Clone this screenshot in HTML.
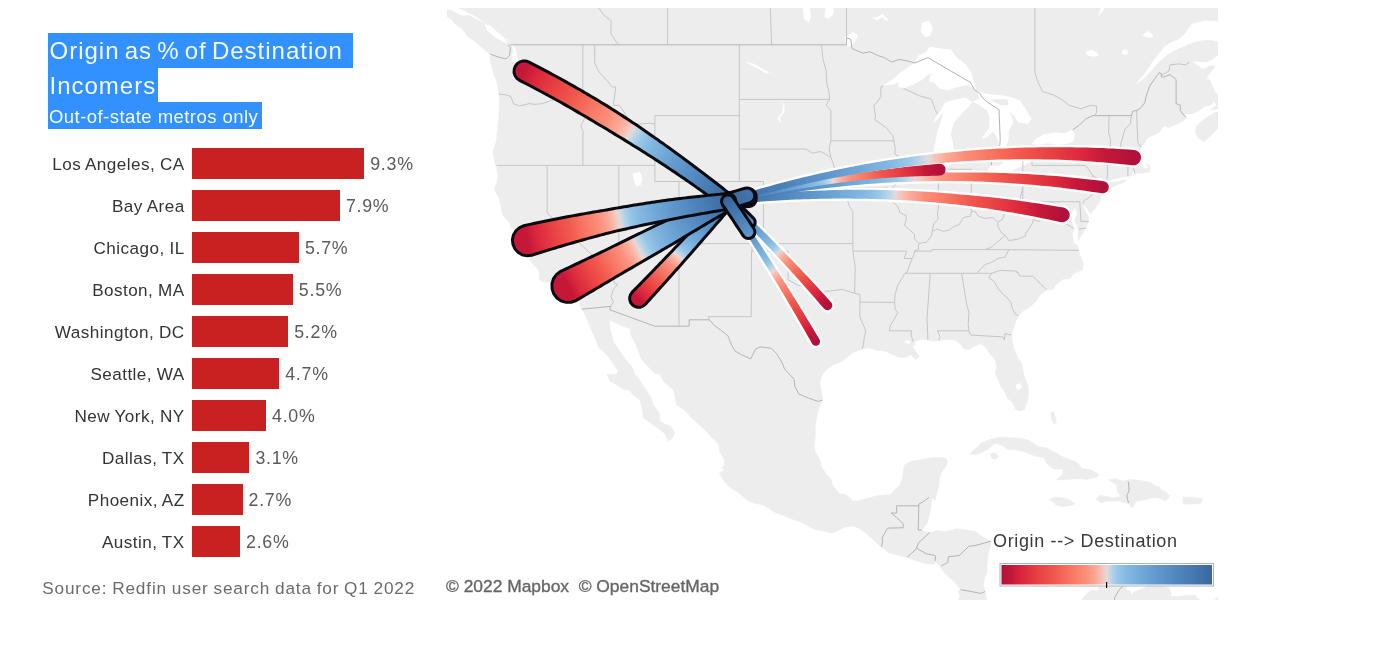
<!DOCTYPE html>
<html><head><meta charset="utf-8"><title>Origin as % of Destination Incomers</title>
<style>
html,body{margin:0;padding:0;background:#fff}
body{width:1385px;height:656px;position:relative;overflow:hidden;font-family:"Liberation Sans",sans-serif}

.ttl{position:absolute;left:48px;background:#3390ff;color:#f4fbff;white-space:nowrap;overflow:visible}
.t1{position:absolute;left:1.5px;top:4.2px;font-size:24px;line-height:28px;letter-spacing:1.0px;word-spacing:-2.5px}
.t2{position:absolute;left:1px;top:4px;font-size:18.5px;line-height:22px;letter-spacing:0.45px}
.lab{position:absolute;left:0;width:184.6px;text-align:right;height:31px;line-height:33.2px;font-size:17.1px;color:#333;white-space:nowrap;letter-spacing:0.45px;word-spacing:-0.4px}
.bar{position:absolute;left:192px;height:31px;background:#c92022}
.val{position:absolute;height:31px;line-height:32px;font-size:17.8px;color:#5a5a5a;white-space:nowrap;letter-spacing:0.75px}
.src{position:absolute;left:42.2px;top:577.2px;font-size:17.2px;line-height:22px;color:#6b6b6b;white-space:nowrap;letter-spacing:0.85px;word-spacing:-0.8px}

#map{position:absolute;left:0;top:0}
.attr{position:absolute;left:446px;top:574.7px;font-size:17.4px;line-height:22px;color:#666;white-space:pre;-webkit-text-stroke:0.35px #666;letter-spacing:0px}
.lgt{position:absolute;left:993px;top:529.6px;font-size:18px;line-height:22px;color:#3a3a3a;white-space:nowrap;letter-spacing:0.64px}
</style></head><body>
<svg id="map" width="1385" height="656" viewBox="0 0 1385 656">
<defs></defs>
<clipPath id="mc"><rect x="447" y="8" width="771" height="592"/></clipPath>
<g clip-path="url(#mc)">
<rect x="447" y="8" width="771" height="592" fill="#fff"/>
<g fill="#ededee" stroke="#ededee" stroke-width="0.6" stroke-linejoin="round">
<path d="M443.5,-12.0 L453.1,3.5 L459.1,8.3 L467.6,12.1 L478.4,17.8 L485.6,23.5 L490.5,28.2 L498.9,33.7 L504.9,37.5 L508.5,39.3 L509.7,43.9 L513.4,44.8 L515.8,48.5 L517.0,54.0 L518.2,59.4 L520.0,64.8 L518.2,70.2 L518.2,75.5 L513.4,79.1 L510.3,75.5 L515.2,70.2 L515.8,64.8 L513.4,61.2 L508.5,60.3 L498.9,59.4 L490.5,55.8 L490.5,63.0 L494.1,72.0 L496.5,80.9 L498.3,87.9 L498.9,94.0 L499.5,101.8 L498.9,115.6 L497.7,127.4 L496.5,140.8 L492.9,151.5 L494.7,162.2 L496.5,167.0 L497.7,175.1 L497.1,183.1 L494.1,190.2 L498.9,197.3 L501.3,206.7 L502.5,214.5 L509.7,223.0 L511.0,228.4 L517.0,230.7 L517.0,236.0 L518.2,241.3 L523.0,244.3 L525.4,246.6 L523.6,250.3 L529.0,258.5 L532.6,263.7 L536.3,267.4 L539.3,271.1 L539.3,279.2 L541.4,281.4 L549.5,282.1 L555.5,283.9 L561.6,287.5 L565.2,287.7 L566.4,291.6 L570.0,291.9 L576.0,296.7 L579.6,302.4 L580.2,306.7 L581.8,309.2 L584.5,313.9 L587.5,320.3 L591.7,330.8 L595.9,339.2 L598.3,346.9 L606.1,353.8 L612.8,362.8 L618.2,371.7 L615.8,374.4 L606.8,374.4 L609.8,380.5 L615.8,384.6 L623.6,389.3 L629.0,390.0 L633.9,395.4 L639.9,400.1 L642.3,408.8 L643.5,418.1 L649.5,422.1 L656.8,427.3 L664.6,433.3 L668.2,440.7 L672.4,438.5 L674.6,432.6 L670.6,426.0 L664.0,424.0 L659.8,420.7 L659.2,412.8 L653.1,404.8 L651.3,398.1 L647.1,391.4 L642.3,384.6 L639.3,379.2 L634.5,373.7 L631.5,366.2 L625.4,359.4 L619.4,350.4 L613.4,342.0 L611.0,332.2 L609.2,325.2 L609.8,319.5 L613.4,321.7 L624.2,326.6 L630.2,328.7 L630.8,335.0 L634.5,342.0 L638.1,350.4 L641.1,358.7 L647.1,365.5 L654.3,373.1 L660.4,374.4 L664.0,381.9 L668.8,386.0 L674.2,390.7 L674.8,396.7 L676.6,404.8 L684.5,410.1 L691.7,418.1 L697.7,423.4 L705.0,430.0 L711.0,436.5 L718.2,443.7 L720.0,452.2 L724.2,458.7 L724.8,465.2 L721.8,467.7 L724.8,470.3 L719.4,472.9 L723.0,479.3 L729.1,487.0 L736.3,490.8 L742.3,495.9 L747.1,500.3 L755.6,503.5 L762.8,504.8 L768.8,508.6 L776.1,513.0 L783.3,515.5 L789.3,518.0 L800.2,521.8 L806.2,525.0 L814.6,529.3 L824.3,531.2 L831.5,533.1 L838.7,530.0 L845.9,526.8 L853.2,526.2 L859.2,528.1 L866.4,533.7 L872.5,538.7 L880.9,546.8 L889.3,553.0 L897.8,554.9 L907.4,557.4 L917.0,561.1 L925.5,563.6 L933.9,564.2 L936.3,561.1 L939.9,566.7 L944.8,572.9 L950.8,578.4 L956.8,584.6 L960.4,589.5 L958.0,591.9 L960.4,595.6 L958.6,600.5 L958.0,615.2 L993.0,615.2 L986.9,600.5 L985.1,591.9 L983.3,584.6 L984.5,578.4 L986.9,572.2 L986.9,566.1 L988.1,553.7 L990.5,546.2 L991.1,541.2 L983.3,537.5 L974.9,531.2 L966.4,530.0 L956.8,528.7 L946.0,531.8 L937.5,530.6 L930.3,532.5 L925.5,531.8 L921.9,530.0 L926.7,523.7 L929.1,517.4 L930.3,509.8 L931.5,502.2 L931.5,497.8 L935.1,500.3 L938.7,485.7 L939.3,478.0 L941.1,472.9 L946.6,465.2 L947.2,460.0 L943.5,457.4 L932.7,457.4 L923.1,459.3 L912.2,461.3 L905.0,464.5 L903.2,470.3 L902.6,478.0 L900.2,484.4 L895.3,489.5 L890.5,494.6 L884.5,495.3 L876.1,495.9 L866.4,498.4 L858.0,501.0 L853.2,501.0 L845.9,494.6 L838.7,493.4 L836.3,489.5 L832.7,485.7 L830.9,479.3 L825.5,472.9 L821.8,467.7 L819.4,458.7 L815.2,452.2 L814.0,445.7 L815.2,436.5 L815.2,426.0 L817.0,415.4 L819.4,407.5 L822.4,400.1 L821.8,392.7 L819.4,383.3 L821.8,375.1 L826.7,369.6 L833.9,364.2 L841.1,362.1 L847.1,357.3 L852.0,353.1 L858.0,350.4 L862.2,349.0 L868.8,347.9 L877.3,350.4 L883.3,350.4 L886.9,351.8 L892.9,354.5 L899.0,357.3 L906.2,357.3 L911.0,354.5 L915.8,359.4 L919.4,356.6 L915.8,351.8 L912.2,346.2 L915.8,344.1 L913.4,342.0 L920.7,339.2 L927.9,339.9 L932.7,341.3 L938.7,340.6 L947.2,339.2 L954.4,339.9 L960.4,343.4 L964.0,349.0 L968.9,349.7 L976.1,345.5 L980.9,343.4 L985.7,347.6 L990.5,354.5 L995.4,360.0 L996.6,366.9 L995.4,373.7 L997.8,379.2 L1001.4,387.3 L1005.0,392.7 L1007.4,398.1 L1012.2,402.1 L1015.2,408.8 L1018.3,410.8 L1024.3,410.1 L1025.5,406.1 L1027.3,402.1 L1028.5,392.7 L1027.9,386.0 L1024.3,376.5 L1022.5,368.3 L1021.9,364.2 L1018.3,358.7 L1014.0,349.0 L1012.2,340.6 L1011.6,335.0 L1013.4,328.0 L1015.8,321.0 L1018.3,316.0 L1023.1,311.0 L1030.3,306.7 L1036.3,301.0 L1039.9,295.2 L1046.0,290.1 L1053.2,289.4 L1055.6,285.1 L1062.8,279.2 L1070.1,278.5 L1073.7,273.3 L1082.7,269.7 L1083.3,263.0 L1079.7,254.1 L1077.3,245.1 L1073.7,243.6 L1072.5,236.0 L1073.7,228.4 L1071.3,220.7 L1071.3,213.0 L1074.9,206.7 L1077.3,213.0 L1074.9,220.7 L1078.5,228.4 L1077.9,240.5 L1082.1,234.5 L1086.9,225.3 L1088.8,220.7 L1088.1,216.1 L1084.5,209.9 L1082.7,203.6 L1088.1,209.9 L1090.6,213.7 L1095.4,208.3 L1100.2,200.5 L1101.4,192.6 L1100.2,187.9 L1101.4,186.3 L1105.0,182.3 L1113.5,179.1 L1120.7,177.2 L1126.7,176.4 L1131.5,175.6 L1132.7,170.3 L1135.1,173.5 L1138.8,172.7 L1141.8,173.2 L1149.6,171.9 L1150.2,167.0 L1148.4,164.6 L1146.6,164.6 L1149.0,167.8 L1143.6,169.0 L1142.4,165.4 L1140.0,160.5 L1137.6,159.7 L1140.0,156.5 L1142.4,154.8 L1140.0,151.5 L1141.2,147.4 L1144.8,142.5 L1147.2,138.3 L1152.0,135.8 L1159.2,132.5 L1164.1,125.7 L1168.9,127.4 L1174.9,124.9 L1182.1,121.5 L1186.4,118.1 L1184.5,113.9 L1191.8,113.9 L1197.8,111.3 L1203.8,107.0 L1211.1,104.4 L1214.7,101.0 L1216.5,105.3 L1210.5,109.9 L1218.3,108.7 L1227.9,108.7 L1227.9,96.6 L1215.9,94.0 L1212.3,86.1 L1209.9,80.0 L1206.2,79.1 L1210.5,72.0 L1214.7,66.6 L1211.1,65.7 L1202.6,69.3 L1194.2,63.0 L1189.4,62.1 L1197.8,61.2 L1206.2,62.1 L1212.3,59.4 L1218.3,54.9 L1227.9,52.2 L1227.9,43.0 L1218.3,42.1 L1209.9,40.2 L1197.8,41.2 L1185.8,45.8 L1173.7,51.2 L1167.7,54.9 L1159.2,62.1 L1152.0,70.2 L1147.2,75.5 L1142.4,80.0 L1137.6,83.5 L1134.5,85.3 L1138.8,80.0 L1144.8,72.9 L1150.8,63.9 L1153.2,60.3 L1158.0,54.0 L1165.3,45.8 L1171.3,42.1 L1179.7,38.4 L1185.8,31.9 L1191.8,23.5 L1203.8,20.6 L1218.3,20.6 L1227.9,20.6 L1227.9,-12.0Z"/>
<path d="M443.5,9.2 L450.7,10.2 L460.3,15.0 L468.8,17.8 L478.4,20.6 L484.4,26.3 L488.1,31.9 L496.5,38.4 L501.3,42.1 L504.9,50.3 L507.3,54.9 L503.7,57.2 L494.1,54.0 L485.6,49.4 L479.6,45.8 L474.8,41.2 L467.6,36.5 L462.8,29.1 L455.5,24.4 L450.7,18.8 L443.5,15.0Z"/>
<path d="M1227.9,124.0 L1218.3,127.4 L1209.9,136.6 L1203.8,141.6 L1197.8,137.5 L1195.4,132.5 L1196.6,125.7 L1200.2,122.4 L1209.9,115.6 L1215.9,112.1 L1227.9,111.3Z"/>
<path d="M1101.4,187.9 L1107.4,187.9 L1115.9,185.5 L1121.9,183.1 L1126.7,180.7 L1123.1,179.9 L1118.3,181.8 L1112.2,182.3 L1105.0,183.9Z"/>
<path d="M969.5,453.9 L976.1,448.3 L980.9,443.1 L989.3,439.8 L1000.2,437.2 L1011.0,437.9 L1021.9,438.5 L1029.1,440.5 L1037.5,446.3 L1047.2,448.3 L1058.0,454.2 L1064.0,457.4 L1077.3,462.6 L1082.1,468.4 L1090.6,469.7 L1099.0,474.8 L1095.4,477.4 L1086.9,479.3 L1079.7,478.7 L1067.7,479.3 L1056.8,479.9 L1062.8,474.2 L1062.8,469.0 L1053.2,469.0 L1047.2,463.9 L1043.6,457.4 L1035.1,456.1 L1023.7,451.6 L1014.6,449.6 L1007.4,449.6 L1003.8,446.3 L995.4,443.1 L988.1,449.0 L982.1,452.2 L976.1,454.8Z"/>
<path d="M990.5,453.5 L995.4,452.9 L998.4,456.1 L995.4,459.3 L991.7,458.0Z"/>
<path d="M1049.0,499.7 L1054.4,497.2 L1062.8,497.8 L1070.1,500.3 L1074.9,503.5 L1071.3,505.2 L1062.8,506.7 L1055.6,504.8 L1052.0,501.0Z"/>
<path d="M1108.6,479.9 L1115.9,478.7 L1123.1,481.2 L1129.7,479.3 L1141.2,480.6 L1150.8,482.5 L1155.6,486.3 L1159.2,487.0 L1161.7,490.8 L1165.3,491.4 L1169.5,495.9 L1165.9,501.0 L1158.0,497.8 L1150.8,497.8 L1143.6,500.3 L1136.3,501.0 L1132.7,507.9 L1128.5,503.5 L1119.5,501.0 L1107.4,501.0 L1101.4,502.9 L1096.0,499.1 L1100.2,495.3 L1113.5,497.8 L1121.3,496.5 L1117.1,490.8 L1117.1,485.1 L1112.2,481.9Z"/>
<path d="M1183.3,497.2 L1191.8,497.2 L1202.6,499.1 L1200.2,503.5 L1191.8,504.1 L1183.3,504.1Z"/>
<path d="M1050.8,412.8 L1053.8,411.5 L1055.6,418.1 L1056.2,423.4 L1053.8,423.4 L1051.4,419.4Z"/>
<path d="M1059.2,615.2 L1066.5,615.2 L1073.7,612.7 L1079.7,607.8 L1082.1,600.5 L1083.3,598.1 L1086.3,594.4 L1091.2,590.1 L1097.8,590.7 L1099.0,587.0 L1109.8,587.0 L1117.1,582.1 L1123.1,575.9 L1129.1,572.9 L1133.9,574.1 L1136.3,577.2 L1133.3,580.9 L1126.7,583.3 L1126.1,589.5 L1130.3,591.3 L1131.5,595.6 L1133.9,591.9 L1137.6,590.7 L1146.0,587.0 L1147.2,583.3 L1146.0,578.4 L1149.6,575.9 L1152.0,578.4 L1152.0,582.1 L1152.6,584.6 L1161.7,585.2 L1168.9,588.2 L1171.3,593.2 L1170.1,596.2 L1176.1,596.8 L1185.8,595.6 L1195.4,595.0 L1197.8,599.3 L1203.8,601.1 L1209.9,601.7 L1214.7,599.9 L1218.3,596.8 L1227.9,594.4 L1227.9,615.2Z"/>
<path d="M462.0,14.0 L470.0,16.0 L486.0,24.0 L505.0,38.0 L512.0,46.0 L514.0,60.0 L516.0,76.0 L505.0,80.0 L494.0,76.0 L491.8,64.0 L490.3,55.0 L478.0,44.0 L468.0,34.0 L458.0,22.0Z"/>
</g>
<g fill="#fff" stroke="none">
<path d="M484.2,24.0 L490.3,25.6 L497.9,32.5 L505.5,39.0 L507.5,43.8 L503.0,41.8 L495.0,37.2 L487.3,30.8Z"/>
<path d="M456.8,10.7 L465.9,12.0 L469.0,14.8 L463.0,15.8 L458.3,13.7Z"/>
<path d="M512.3,52.0 L514.5,56.0 L515.0,63.0 L512.8,62.0 L511.5,56.0Z"/>
<path d="M883.3,85.3 L890.5,80.9 L899.0,73.8 L908.6,66.6 L914.6,63.0 L918.2,55.8 L925.5,52.2 L930.3,46.7 L941.1,48.5 L950.8,49.4 L956.8,57.6 L965.2,63.9 L971.3,72.0 L973.7,80.9 L976.1,89.7 L968.9,85.3 L962.8,86.1 L954.4,87.9 L948.4,90.5 L939.9,88.8 L933.9,82.6 L929.1,81.7 L930.3,75.5 L935.1,72.9 L927.9,74.7 L921.9,80.0 L913.4,84.4 L905.0,87.9 L897.8,87.0 L899.0,82.6 L892.9,84.4Z"/>
<path d="M971.9,101.8 L965.2,97.5 L956.8,99.2 L949.6,101.0 L944.8,102.7 L940.5,110.4 L936.3,116.4 L932.7,123.2 L937.5,119.8 L943.5,111.3 L941.1,120.7 L938.1,129.1 L936.3,137.5 L933.9,149.1 L935.1,158.9 L937.5,167.8 L941.1,171.6 L946.0,169.5 L950.8,163.8 L953.8,154.0 L953.2,144.1 L950.8,134.1 L953.8,122.4 L960.4,115.6 L964.0,111.3 L968.9,107.0Z"/>
<path d="M971.9,101.8 L978.5,104.4 L986.9,110.4 L989.3,117.3 L989.3,127.4 L985.7,132.5 L981.5,138.3 L986.9,137.5 L993.0,131.6 L997.8,139.1 L999.6,149.1 L1006.2,145.8 L1008.6,139.1 L1008.6,130.8 L1013.4,122.4 L1011.0,115.6 L1009.2,111.3 L1014.6,116.4 L1018.3,122.4 L1027.9,124.0 L1031.5,119.0 L1026.7,110.4 L1019.5,100.1 L1008.6,96.6 L999.0,94.9 L986.9,94.0 L979.7,91.4 L976.1,89.7 L979.7,98.4Z"/>
<path d="M987.5,170.3 L990.5,165.4 L999.0,165.4 L1007.4,159.7 L1014.6,154.8 L1024.3,155.6 L1035.1,151.5 L1042.4,151.5 L1038.7,156.5 L1031.5,161.3 L1023.1,165.4 L1014.6,169.5 L1007.4,173.5 L999.0,175.1 L993.0,173.5Z"/>
<path d="M994.2,159.7 L997.8,154.8 L1000.2,158.1 L999.0,160.5Z"/>
<path d="M1031.5,144.1 L1036.3,138.3 L1044.8,134.1 L1055.6,132.5 L1065.3,133.3 L1072.5,129.1 L1074.9,134.1 L1073.7,140.8 L1066.5,144.1 L1058.0,144.9 L1047.2,143.3 L1039.9,144.9Z"/>
<path d="M821.8,-12.0 L831.5,-12.0 L832.7,3.5 L833.9,13.1 L829.1,18.8 L824.3,16.9 L825.5,7.3 L820.6,-0.4Z"/>
<path d="M796.5,-12.0 L807.4,-12.0 L811.0,16.9 L808.6,22.5 L803.8,18.8 L802.6,7.3Z"/>
<path d="M921.9,22.5 L929.1,20.6 L932.7,28.2 L930.3,35.6 L925.5,37.5 L920.7,31.9Z"/>
<path d="M844.7,37.5 L853.2,31.9 L858.0,35.6 L854.4,43.0 L849.6,46.7 L845.9,44.8Z"/>
<path d="M632.7,173.5 L639.9,171.9 L642.3,178.3 L641.1,184.7 L636.3,186.3 L633.9,181.5Z"/>
<path d="M1121.9,50.3 L1126.7,49.4 L1128.5,53.1 L1125.5,54.9 L1121.9,54.0Z"/>
<path d="M1015.8,384.6 L1020.7,383.3 L1021.9,387.3 L1018.9,390.0 L1015.8,388.0Z"/>
<path d="M1085.7,52.2 L1090.6,49.4 L1096.6,52.2 L1099.0,55.8 L1093.0,56.7 L1088.1,55.8Z"/>
<path d="M1142.4,35.6 L1147.2,31.0 L1152.0,33.7 L1153.2,37.5 L1147.2,37.5Z"/>
<path d="M1097.8,16.9 L1102.6,11.2 L1109.8,1.6 L1106.2,1.6 L1100.2,9.2Z"/>
<path d="M744.7,61.2 L754.4,63.9 L760.4,67.5 L766.4,71.1 L770.0,72.0 L766.4,73.8 L759.2,69.3 L752.0,65.7Z"/>
<path d="M779.7,100.1 L783.3,105.3 L782.1,112.1 L777.3,119.0 L782.1,124.0 L779.7,118.1 L784.5,112.1 L784.5,105.3Z"/>
<path d="M903.8,342.0 L908.6,339.9 L911.0,342.0 L908.6,344.1Z"/>
<path d="M872.5,17.8 L877.3,20.6 L882.1,16.9 L886.9,21.6 L888.1,18.8 L882.1,14.0 L877.3,16.9Z"/>
</g>
<g fill="#ededee" stroke="none">
<path d="M991.7,99.2 L999.0,99.2 L1007.4,99.2 L1008.6,105.3 L1001.4,105.3 L993.0,101.8Z"/>
</g>
<g fill="none" stroke="#c6c6c8" stroke-width="1" stroke-linejoin="round">
<path d="M618.6,44.8 L614.6,39.3 L611.0,33.7 L611.0,20.6 L603.7,15.0 L595.3,3.5 L589.3,-4.2"/>
<path d="M667.6,44.8 L667.6,-12.0"/>
<path d="M771.7,44.8 L770.6,16.9 L769.4,-12.0"/>
<path d="M846.5,37.8 L846.5,-12.0"/>
<path d="M1034.9,-12.0 L1034.9,72.0 L1037.5,80.9 L1042.4,91.4 L1053.2,94.9 L1062.8,100.1 L1068.9,105.3 L1074.9,107.0 L1080.9,108.7 L1090.6,105.3 L1096.6,106.1 L1096.6,112.1 L1095.4,114.7"/>
<path d="M1161.0,75.5 L1168.9,71.1 L1170.1,64.8 L1178.5,63.9 L1185.8,64.8 L1189.4,62.1"/>
<path d="M1218.3,99.2 L1221.3,98.4"/>
<path d="M498.9,94.0 L506.1,94.9 L511.0,96.6 L513.4,103.6 L519.4,106.1 L529.0,103.6 L535.1,104.4 L542.3,103.6 L551.9,100.1 L559.2,98.4 L584.2,98.4"/>
<path d="M582.8,44.8 L582.8,91.4 L584.2,98.4 L589.3,107.0 L585.1,117.3 L580.8,125.7 L583.3,132.5 L582.9,135.8 L582.9,165.4"/>
<path d="M496.5,165.4 L654.9,165.4"/>
<path d="M547.1,165.4 L547.1,213.0 L611.8,273.3"/>
<path d="M618.8,165.4 L618.8,255.6 L611.0,257.1 L610.4,258.5 L612.2,266.0 L611.8,273.3 L612.5,276.3 L614.6,283.6 L617.6,284.3 L613.4,289.4 L611.0,296.7 L613.4,302.4 L610.7,306.4"/>
<path d="M618.8,243.6 L852.9,243.6"/>
<path d="M679.0,181.5 L679.0,326.2"/>
<path d="M594.7,44.8 L594.7,63.0 L598.9,72.0 L607.4,80.9 L612.2,87.0 L615.8,87.0 L613.4,105.3 L619.4,105.3 L625.4,113.9 L631.5,124.0 L639.9,124.0 L649.5,123.2 L654.9,124.0"/>
<path d="M654.9,115.6 L654.9,181.5"/>
<path d="M654.9,115.6 L739.3,115.6"/>
<path d="M654.9,181.5 L763.4,181.5"/>
<path d="M739.3,44.8 L739.3,181.5"/>
<path d="M739.3,99.4 L829.6,99.4"/>
<path d="M739.3,149.1 L806.2,149.1 L812.2,153.2 L820.6,151.5 L827.9,155.6 L830.9,157.3"/>
<path d="M763.4,181.5 L763.4,243.6"/>
<path d="M763.4,197.3 L844.7,197.3"/>
<path d="M752.0,243.6 L752.0,251.1 L788.1,251.1 L788.1,279.8 L797.7,285.1 L806.2,286.5 L813.4,289.4 L821.8,291.6 L830.3,290.9 L842.3,289.4 L854.6,293.2 L859.9,294.5 L859.9,316.8 L862.8,323.8 L865.8,330.8 L864.0,339.2 L863.4,344.8 L862.2,349.0"/>
<path d="M751.5,251.1 L751.2,316.7 L708.3,316.7 L709.4,319.8"/>
<path d="M859.9,302.1 L894.5,302.4"/>
<path d="M852.9,243.6 L852.9,251.1 L855.2,267.4 L854.6,293.2"/>
<path d="M852.9,243.6 L852.9,211.4 L849.6,206.7 L847.1,198.9 L844.7,197.3 L838.7,187.9 L838.1,178.3 L835.1,170.3 L832.7,162.2 L830.9,157.3 L829.1,149.1 L830.9,140.8 L830.9,110.4 L826.1,105.3 L829.6,99.4 L829.1,93.1 L826.7,82.6 L826.1,70.2 L823.0,59.4 L821.5,44.8"/>
<path d="M830.9,140.8 L893.9,140.8"/>
<path d="M839.1,187.9 L887.8,187.9 L891.5,191.4"/>
<path d="M883.3,86.1 L880.9,87.0 L880.9,96.6 L876.1,103.6 L873.7,105.3 L875.5,115.6 L874.9,119.8 L880.9,124.0 L885.7,127.4 L892.9,135.8 L893.9,140.8 L895.3,149.1 L894.7,154.0 L900.8,157.3 L903.8,160.5 L906.8,165.4 L906.2,168.6 L902.6,173.5 L896.0,176.7 L895.3,184.7 L891.7,188.7 L891.5,191.4 L890.5,197.3 L891.7,200.5 L897.8,206.7 L900.2,213.0 L906.2,215.3 L906.2,219.1 L904.4,225.3 L909.8,229.9 L914.6,234.5 L914.6,239.0 L918.8,243.6 L918.2,249.6 L914.6,251.1 L914.0,254.8 L912.2,258.5 L909.2,266.0 L907.4,271.9 L905.0,273.3 L901.4,279.2 L897.8,285.1 L895.3,293.8 L894.5,302.4 L895.3,309.6 L897.8,312.4 L894.1,319.5 L890.5,325.2 L889.3,330.8 L911.9,330.8 L911.0,335.0 L913.4,342.0"/>
<path d="M852.9,251.1 L906.8,251.1 L904.1,258.5 L912.2,258.5"/>
<path d="M900.8,157.3 L935.1,157.3"/>
<path d="M938.4,169.3 L938.4,208.3 L937.5,213.0 L938.1,219.1 L933.9,223.8 L932.7,228.4 L932.1,231.4"/>
<path d="M918.8,243.6 L926.7,242.0 L931.5,236.0 L932.1,231.4 L937.5,229.1 L943.5,231.4 L949.6,229.9 L953.2,226.8 L959.2,224.5 L963.4,217.6 L970.7,216.1 L971.3,211.4 L974.9,211.4 L978.5,216.1 L984.5,218.4 L993.0,217.6 L997.8,222.2 L1002.6,219.1 L1005.0,213.0 L1008.6,209.9 L1014.6,206.7 L1018.9,202.1 L1021.3,194.2 L1022.8,187.2"/>
<path d="M971.3,170.3 L971.3,211.4"/>
<path d="M942.3,169.3 L971.3,169.3 L971.3,170.3 L987.5,170.3"/>
<path d="M1022.8,160.5 L1022.8,201.7 L1079.8,201.7 L1080.9,221.3 L1088.8,221.5"/>
<path d="M1032.0,161.0 L1032.0,165.4 L1085.1,165.4 L1088.1,168.6 L1093.0,175.9 L1088.1,181.5 L1086.9,186.3 L1088.8,191.0 L1092.4,194.2 L1088.1,198.1 L1084.5,200.5 L1082.7,203.6"/>
<path d="M1093.0,175.9 L1102.6,181.5"/>
<path d="M1105.6,181.5 L1107.4,176.7 L1107.4,164.6 L1110.3,153.2 L1110.4,139.1 L1108.6,132.5 L1109.2,115.6"/>
<path d="M1120.0,153.5 L1120.7,144.1 L1123.1,135.8 L1124.9,129.1 L1130.3,124.0 L1131.5,115.6"/>
<path d="M1141.2,147.4 L1137.9,142.5 L1137.2,127.4 L1136.6,110.4"/>
<path d="M1110.3,153.5 L1133.9,154.0 L1140.0,151.2"/>
<path d="M1107.4,164.8 L1127.9,165.1 L1133.0,165.2 L1133.0,167.0 L1135.1,173.5"/>
<path d="M1127.9,165.1 L1127.9,176.4"/>
<path d="M1078.5,229.1 L1086.5,227.9"/>
<path d="M1035.4,201.7 L1035.4,209.9 L1039.9,205.7 L1044.2,203.6 L1047.8,204.9 L1050.8,202.4 L1055.0,203.6 L1056.6,208.0 L1059.2,209.9 L1062.2,213.0 L1064.8,215.3 L1062.8,222.2 L1065.9,223.8 L1073.7,228.4"/>
<path d="M1056.6,208.0 L1055.3,210.9 L1049.0,206.7 L1049.0,213.0 L1042.7,216.5 L1038.7,221.5 L1033.3,219.1 L1032.7,223.0 L1025.5,233.7 L1025.5,236.0 L1018.3,239.0 L1014.0,239.8 L1008.6,240.5 L1005.4,235.4 L1001.4,232.9 L997.8,226.1 L997.8,222.2"/>
<path d="M1005.4,235.4 L996.6,242.8 L991.1,247.3 L984.8,249.6"/>
<path d="M1078.9,250.3 L1008.9,249.7 L984.8,249.6 L931.9,249.6 L931.9,251.1 L914.6,251.1"/>
<path d="M1008.9,249.7 L1005.0,257.1 L997.8,258.5 L991.7,262.3 L984.5,264.9 L980.3,269.4 L977.0,273.3"/>
<path d="M991.6,273.3 L905.0,273.3"/>
<path d="M991.6,273.3 L1000.2,270.4 L1016.5,271.1 L1016.5,272.6 L1017.9,271.9 L1019.5,276.0 L1033.1,276.3 L1046.6,290.0"/>
<path d="M991.6,273.3 L988.7,277.7 L994.2,281.4 L997.8,288.0 L1002.6,293.8 L1006.2,296.7 L1011.0,302.4 L1012.2,308.2 L1015.2,313.9 L1018.3,316.0"/>
<path d="M961.6,273.3 L966.7,304.3 L968.9,312.4 L968.2,323.8 L968.9,330.8 L970.5,335.0 L1002.6,336.9 L1004.4,339.9 L1005.0,333.6 L1011.6,335.0"/>
<path d="M968.9,330.8 L937.5,330.8 L939.9,336.4 L938.7,340.6"/>
<path d="M930.3,273.3 L927.0,318.1 L927.9,339.9"/>
<path d="M903.5,88.4 L919.4,95.8 L931.5,99.2 L935.1,109.6 L937.5,113.9"/>
</g>
<g fill="none" stroke="#b4b4b6" stroke-width="1" stroke-linejoin="round">
<path d="M507.8,45.0 L510.4,47.6 L509.6,55.2 L506.0,59.0 L498.0,57.0 L490.3,54.1"/>
<path d="M509.7,44.8 L846.5,44.8 L846.5,37.8 L850.8,39.3 L852.0,48.5 L858.0,51.2 L862.8,53.1 L870.0,51.8 L878.5,55.8 L884.5,57.6 L891.7,62.1 L899.0,59.4 L908.6,61.2 L914.6,63.0"/>
<path d="M914.6,63.0 L927.9,57.6 L970.7,82.6 L974.3,89.7 L979.7,93.1 L982.1,97.5 L986.9,101.8 L999.0,109.6 L1000.2,139.1 L999.6,149.1"/>
<path d="M999.6,149.1 L999.0,155.6 L994.2,159.7 L991.7,161.3 L991.1,165.4"/>
<path d="M1040.5,144.9 L1041.8,150.7"/>
<path d="M1072.5,129.9 L1079.7,124.9 L1085.7,119.0 L1093.0,115.6 L1131.5,115.6 L1132.7,111.3 L1136.3,110.4 L1140.0,108.7 L1144.8,102.7 L1146.0,96.6 L1149.6,86.1 L1159.0,72.7 L1161.7,73.8 L1161.0,76.4 L1162.9,77.3 L1170.1,74.7 L1176.1,79.6 L1176.1,103.6 L1180.3,105.3 L1180.3,110.4 L1182.1,113.0 L1185.8,117.3"/>
<path d="M581.8,309.2 L610.7,306.4 L609.6,309.7 L654.7,326.2 L689.2,326.2 L689.2,319.8 L709.4,319.8 L713.4,324.5 L720.6,330.1 L727.9,335.7 L731.5,344.8 L735.1,351.1 L741.1,354.5 L750.7,358.9 L755.6,349.0 L760.4,346.9 L771.2,348.3 L776.7,353.8 L782.1,362.8 L784.5,369.0 L794.1,379.2 L794.7,386.0 L798.9,394.1 L808.6,398.1 L818.2,401.4 L822.4,400.1"/>
<path d="M881.5,546.8 L882.7,541.2 L882.1,538.1 L887.5,528.1 L903.2,527.8 L903.2,523.7 L896.6,517.4 L891.1,513.0 L896.6,513.0 L896.6,505.8 L918.8,505.8 L918.8,504.1 L924.3,501.0 L929.1,497.2"/>
<path d="M918.8,505.8 L918.2,530.0 L921.9,530.0"/>
<path d="M929.7,532.5 L918.8,542.5 L916.4,548.3 L914.0,551.2 L907.4,556.8"/>
<path d="M916.4,548.3 L926.7,553.9 L932.7,554.9 L935.7,556.1 L935.1,561.1"/>
<path d="M941.1,566.1 L947.8,562.3 L948.4,556.8 L959.2,555.5 L968.9,546.2 L974.9,545.6 L991.1,541.2"/>
<path d="M960.4,589.7 L970.1,591.3 L980.9,593.4 L985.1,591.6"/>
<path d="M1128.5,481.9 L1129.1,490.8 L1126.7,495.9 L1128.5,502.9"/>
<path d="M1133.6,580.2 L1125.5,583.3 L1119.5,589.5 L1114.7,597.4 L1113.5,609.1"/>
</g>
</g>
<defs><linearGradient id="gDC" gradientUnits="userSpaceOnUse" x1="1062.3" y1="214.9" x2="728.0" y2="201.4"><stop offset="0.0000" stop-color="#b1113a"/><stop offset="0.0675" stop-color="#c51838"/><stop offset="0.1234" stop-color="#db283c"/><stop offset="0.2057" stop-color="#e94243"/><stop offset="0.2737" stop-color="#f1574c"/><stop offset="0.3511" stop-color="#f87864"/><stop offset="0.4118" stop-color="#fb8e7a"/><stop offset="0.4562" stop-color="#fbaa98"/><stop offset="0.4826" stop-color="#f6c4b8"/><stop offset="0.5000" stop-color="#e4dada"/><stop offset="0.5200" stop-color="#bcd6e9"/><stop offset="0.5500" stop-color="#98c7e7"/><stop offset="0.6000" stop-color="#82b7e1"/><stop offset="0.6670" stop-color="#70a8d7"/><stop offset="0.7500" stop-color="#5f96cb"/><stop offset="0.8330" stop-color="#5187be"/><stop offset="0.9200" stop-color="#4477af"/><stop offset="1.0000" stop-color="#3a689e"/></linearGradient><linearGradient id="gSeattle" gradientUnits="userSpaceOnUse" x1="524.3" y1="71.2" x2="728.0" y2="201.4"><stop offset="0.0000" stop-color="#c51838"/><stop offset="0.0567" stop-color="#db283c"/><stop offset="0.1473" stop-color="#e94243"/><stop offset="0.2267" stop-color="#f1574c"/><stop offset="0.3207" stop-color="#f87864"/><stop offset="0.3967" stop-color="#fb8e7a"/><stop offset="0.4533" stop-color="#fbaa98"/><stop offset="0.4873" stop-color="#f6c4b8"/><stop offset="0.5100" stop-color="#e4dada"/><stop offset="0.5296" stop-color="#bcd6e9"/><stop offset="0.5590" stop-color="#98c7e7"/><stop offset="0.6080" stop-color="#82b7e1"/><stop offset="0.6737" stop-color="#70a8d7"/><stop offset="0.7550" stop-color="#5f96cb"/><stop offset="0.8363" stop-color="#5187be"/><stop offset="0.9216" stop-color="#4477af"/><stop offset="1.0000" stop-color="#3a689e"/></linearGradient><linearGradient id="gPhoenix" gradientUnits="userSpaceOnUse" x1="638.6" y1="298.4" x2="728.0" y2="201.4"><stop offset="0.0000" stop-color="#c51838"/><stop offset="0.0489" stop-color="#db283c"/><stop offset="0.1271" stop-color="#e94243"/><stop offset="0.1956" stop-color="#f1574c"/><stop offset="0.2767" stop-color="#f87864"/><stop offset="0.3422" stop-color="#fb8e7a"/><stop offset="0.3911" stop-color="#fbaa98"/><stop offset="0.4204" stop-color="#f6c4b8"/><stop offset="0.4400" stop-color="#e4dada"/><stop offset="0.4624" stop-color="#bcd6e9"/><stop offset="0.4960" stop-color="#98c7e7"/><stop offset="0.5520" stop-color="#82b7e1"/><stop offset="0.6270" stop-color="#70a8d7"/><stop offset="0.7200" stop-color="#5f96cb"/><stop offset="0.8130" stop-color="#5187be"/><stop offset="0.9104" stop-color="#4477af"/><stop offset="1.0000" stop-color="#3a689e"/></linearGradient><linearGradient id="gNY" gradientUnits="userSpaceOnUse" x1="1102.7" y1="187.2" x2="728.0" y2="201.4"><stop offset="0.0000" stop-color="#b1113a"/><stop offset="0.0675" stop-color="#c51838"/><stop offset="0.1234" stop-color="#db283c"/><stop offset="0.2057" stop-color="#e94243"/><stop offset="0.2737" stop-color="#f1574c"/><stop offset="0.3511" stop-color="#f87864"/><stop offset="0.4118" stop-color="#fb8e7a"/><stop offset="0.4562" stop-color="#fbaa98"/><stop offset="0.4826" stop-color="#f6c4b8"/><stop offset="0.5000" stop-color="#e4dada"/><stop offset="0.5200" stop-color="#bcd6e9"/><stop offset="0.5500" stop-color="#98c7e7"/><stop offset="0.6000" stop-color="#82b7e1"/><stop offset="0.6670" stop-color="#70a8d7"/><stop offset="0.7500" stop-color="#5f96cb"/><stop offset="0.8330" stop-color="#5187be"/><stop offset="0.9200" stop-color="#4477af"/><stop offset="1.0000" stop-color="#3a689e"/></linearGradient><linearGradient id="gLA" gradientUnits="userSpaceOnUse" x1="568.3" y1="286.0" x2="728.0" y2="201.4"><stop offset="0.0000" stop-color="#c51838"/><stop offset="0.0489" stop-color="#db283c"/><stop offset="0.1271" stop-color="#e94243"/><stop offset="0.1956" stop-color="#f1574c"/><stop offset="0.2767" stop-color="#f87864"/><stop offset="0.3422" stop-color="#fb8e7a"/><stop offset="0.3911" stop-color="#fbaa98"/><stop offset="0.4204" stop-color="#f6c4b8"/><stop offset="0.4400" stop-color="#e4dada"/><stop offset="0.4624" stop-color="#bcd6e9"/><stop offset="0.4960" stop-color="#98c7e7"/><stop offset="0.5520" stop-color="#82b7e1"/><stop offset="0.6270" stop-color="#70a8d7"/><stop offset="0.7200" stop-color="#5f96cb"/><stop offset="0.8130" stop-color="#5187be"/><stop offset="0.9104" stop-color="#4477af"/><stop offset="1.0000" stop-color="#3a689e"/></linearGradient><linearGradient id="gDallas" gradientUnits="userSpaceOnUse" x1="827.5" y1="305.4" x2="728.0" y2="201.4"><stop offset="0.0000" stop-color="#b1113a"/><stop offset="0.0675" stop-color="#c51838"/><stop offset="0.1234" stop-color="#db283c"/><stop offset="0.2057" stop-color="#e94243"/><stop offset="0.2737" stop-color="#f1574c"/><stop offset="0.3511" stop-color="#f87864"/><stop offset="0.4118" stop-color="#fb8e7a"/><stop offset="0.4562" stop-color="#fbaa98"/><stop offset="0.4826" stop-color="#f6c4b8"/><stop offset="0.5000" stop-color="#e4dada"/><stop offset="0.5200" stop-color="#bcd6e9"/><stop offset="0.5500" stop-color="#98c7e7"/><stop offset="0.6000" stop-color="#82b7e1"/><stop offset="0.6670" stop-color="#70a8d7"/><stop offset="0.7500" stop-color="#5f96cb"/><stop offset="0.8330" stop-color="#5187be"/><stop offset="0.9200" stop-color="#4477af"/><stop offset="1.0000" stop-color="#3a689e"/></linearGradient><linearGradient id="gChicago" gradientUnits="userSpaceOnUse" x1="939.7" y1="169.7" x2="728.0" y2="201.4"><stop offset="0.0000" stop-color="#b1113a"/><stop offset="0.0675" stop-color="#c51838"/><stop offset="0.1234" stop-color="#db283c"/><stop offset="0.2057" stop-color="#e94243"/><stop offset="0.2737" stop-color="#f1574c"/><stop offset="0.3511" stop-color="#f87864"/><stop offset="0.4118" stop-color="#fb8e7a"/><stop offset="0.4562" stop-color="#fbaa98"/><stop offset="0.4826" stop-color="#f6c4b8"/><stop offset="0.5000" stop-color="#e4dada"/><stop offset="0.5200" stop-color="#bcd6e9"/><stop offset="0.5500" stop-color="#98c7e7"/><stop offset="0.6000" stop-color="#82b7e1"/><stop offset="0.6670" stop-color="#70a8d7"/><stop offset="0.7500" stop-color="#5f96cb"/><stop offset="0.8330" stop-color="#5187be"/><stop offset="0.9200" stop-color="#4477af"/><stop offset="1.0000" stop-color="#3a689e"/></linearGradient><linearGradient id="gBoston" gradientUnits="userSpaceOnUse" x1="1133.3" y1="157.6" x2="728.0" y2="201.4"><stop offset="0.0000" stop-color="#b1113a"/><stop offset="0.0675" stop-color="#c51838"/><stop offset="0.1234" stop-color="#db283c"/><stop offset="0.2057" stop-color="#e94243"/><stop offset="0.2737" stop-color="#f1574c"/><stop offset="0.3511" stop-color="#f87864"/><stop offset="0.4118" stop-color="#fb8e7a"/><stop offset="0.4562" stop-color="#fbaa98"/><stop offset="0.4826" stop-color="#f6c4b8"/><stop offset="0.5000" stop-color="#e4dada"/><stop offset="0.5200" stop-color="#bcd6e9"/><stop offset="0.5500" stop-color="#98c7e7"/><stop offset="0.6000" stop-color="#82b7e1"/><stop offset="0.6670" stop-color="#70a8d7"/><stop offset="0.7500" stop-color="#5f96cb"/><stop offset="0.8330" stop-color="#5187be"/><stop offset="0.9200" stop-color="#4477af"/><stop offset="1.0000" stop-color="#3a689e"/></linearGradient><linearGradient id="gBayArea" gradientUnits="userSpaceOnUse" x1="527.7" y1="240.5" x2="728.0" y2="201.4"><stop offset="0.0000" stop-color="#c51838"/><stop offset="0.0511" stop-color="#db283c"/><stop offset="0.1329" stop-color="#e94243"/><stop offset="0.2044" stop-color="#f1574c"/><stop offset="0.2893" stop-color="#f87864"/><stop offset="0.3578" stop-color="#fb8e7a"/><stop offset="0.4089" stop-color="#fbaa98"/><stop offset="0.4396" stop-color="#f6c4b8"/><stop offset="0.4600" stop-color="#e4dada"/><stop offset="0.4816" stop-color="#bcd6e9"/><stop offset="0.5140" stop-color="#98c7e7"/><stop offset="0.5680" stop-color="#82b7e1"/><stop offset="0.6404" stop-color="#70a8d7"/><stop offset="0.7300" stop-color="#5f96cb"/><stop offset="0.8196" stop-color="#5187be"/><stop offset="0.9136" stop-color="#4477af"/><stop offset="1.0000" stop-color="#3a689e"/></linearGradient><linearGradient id="gAustin" gradientUnits="userSpaceOnUse" x1="815.8" y1="341.6" x2="728.0" y2="201.4"><stop offset="0.0000" stop-color="#b1113a"/><stop offset="0.0675" stop-color="#c51838"/><stop offset="0.1234" stop-color="#db283c"/><stop offset="0.2057" stop-color="#e94243"/><stop offset="0.2737" stop-color="#f1574c"/><stop offset="0.3511" stop-color="#f87864"/><stop offset="0.4118" stop-color="#fb8e7a"/><stop offset="0.4562" stop-color="#fbaa98"/><stop offset="0.4826" stop-color="#f6c4b8"/><stop offset="0.5000" stop-color="#e4dada"/><stop offset="0.5200" stop-color="#bcd6e9"/><stop offset="0.5500" stop-color="#98c7e7"/><stop offset="0.6000" stop-color="#82b7e1"/><stop offset="0.6670" stop-color="#70a8d7"/><stop offset="0.7500" stop-color="#5f96cb"/><stop offset="0.8330" stop-color="#5187be"/><stop offset="0.9200" stop-color="#4477af"/><stop offset="1.0000" stop-color="#3a689e"/></linearGradient></defs>
<g><path d="M1064.2,205.4 L1060.1,204.7 L1055.9,204.0 L1051.8,203.3 L1047.7,202.6 L1043.5,202.0 L1039.4,201.3 L1035.3,200.7 L1031.1,200.1 L1026.9,199.5 L1022.8,198.9 L1018.6,198.4 L1014.5,197.8 L1010.3,197.3 L1006.1,196.8 L1001.9,196.3 L997.7,195.8 L993.5,195.3 L989.4,194.8 L985.2,194.4 L981.0,194.0 L976.8,193.6 L972.5,193.2 L968.3,192.8 L964.1,192.5 L959.9,192.1 L955.7,191.7 L951.5,191.4 L947.3,191.0 L943.1,190.7 L938.8,190.4 L934.6,190.0 L930.4,189.8 L926.2,189.5 L921.9,189.2 L917.7,189.0 L913.5,188.8 L909.2,188.6 L905.0,188.4 L900.7,188.2 L896.5,188.1 L892.3,187.9 L888.0,187.8 L883.8,187.7 L879.5,187.6 L875.3,187.5 L871.0,187.5 L866.8,187.5 L862.5,187.4 L858.3,187.4 L854.0,187.4 L849.8,187.5 L845.6,187.5 L841.3,187.6 L837.1,187.7 L832.8,187.8 L828.6,187.9 L824.3,188.1 L820.1,188.2 L815.9,188.4 L811.6,188.6 L807.4,188.8 L803.1,189.0 L798.9,189.3 L794.7,189.5 L790.5,189.8 L786.2,190.1 L782.0,190.4 L777.8,190.7 L773.6,191.1 L769.3,191.4 L765.1,191.8 L760.9,192.2 L756.7,192.6 L752.5,193.0 L748.3,193.5 L746.6,193.9 L745.1,194.9 L743.9,196.3 L743.2,197.9 L743.1,199.7 L743.6,201.5 L744.5,203.0 L745.9,204.1 L747.6,204.8 L749.4,204.9 L753.6,204.6 L757.7,204.2 L761.9,203.9 L766.1,203.6 L770.3,203.3 L774.4,203.0 L778.6,202.8 L782.8,202.5 L787.0,202.3 L791.2,202.1 L795.3,201.9 L799.5,201.7 L803.7,201.6 L807.9,201.4 L812.1,201.3 L816.3,201.2 L820.5,201.1 L824.7,201.0 L828.9,201.0 L833.1,200.9 L837.2,200.9 L841.4,200.9 L845.6,200.9 L849.8,200.9 L854.0,201.0 L858.2,201.0 L862.4,201.1 L866.6,201.1 L870.8,201.2 L875.0,201.4 L879.2,201.5 L883.4,201.6 L887.5,201.8 L891.7,202.0 L895.9,202.2 L900.1,202.4 L904.3,202.6 L908.5,202.8 L912.6,203.1 L916.8,203.4 L921.0,203.7 L925.2,204.0 L929.3,204.3 L933.5,204.6 L937.7,205.0 L941.8,205.4 L946.0,205.8 L950.1,206.2 L954.3,206.6 L958.4,207.0 L962.6,207.5 L966.7,208.1 L970.8,208.6 L974.9,209.2 L979.1,209.7 L983.2,210.3 L987.3,210.9 L991.4,211.5 L995.5,212.2 L999.6,212.8 L1003.7,213.5 L1007.8,214.2 L1011.9,214.9 L1016.0,215.6 L1020.0,216.3 L1024.1,217.1 L1028.1,217.8 L1032.2,218.6 L1036.3,219.4 L1040.3,220.2 L1044.3,221.0 L1048.4,221.8 L1052.4,222.7 L1056.4,223.5 L1060.4,224.4 L1063.5,224.5 L1066.4,223.7 L1068.9,222.0 L1070.8,219.6 L1071.8,216.8 L1071.9,213.7 L1071.1,210.8 L1069.4,208.3 L1067.0,206.4Z" fill="#fff"/>
<path d="M1103.9,178.9 L1099.2,178.3 L1094.5,177.7 L1089.8,177.2 L1085.1,176.6 L1080.4,176.1 L1075.6,175.6 L1070.9,175.1 L1066.2,174.7 L1061.5,174.3 L1056.7,173.9 L1052.0,173.5 L1047.2,173.1 L1042.5,172.8 L1037.7,172.4 L1033.0,172.1 L1028.2,171.8 L1023.5,171.6 L1018.7,171.3 L1014.0,171.1 L1009.2,170.9 L1004.4,170.8 L999.7,170.6 L994.9,170.5 L990.1,170.4 L985.4,170.3 L980.6,170.2 L975.8,170.1 L971.0,170.1 L966.3,170.1 L961.5,170.1 L956.7,170.2 L952.0,170.2 L947.2,170.2 L942.4,170.3 L937.7,170.4 L932.9,170.5 L928.1,170.7 L923.4,170.8 L918.6,171.0 L913.8,171.2 L909.1,171.5 L904.3,171.7 L899.6,172.0 L894.8,172.3 L890.1,172.6 L885.3,172.9 L880.6,173.3 L875.8,173.7 L871.1,174.1 L866.4,174.5 L861.6,174.9 L856.9,175.4 L852.2,175.9 L847.5,176.4 L842.7,176.9 L838.0,177.4 L833.3,178.0 L828.6,178.6 L823.9,179.2 L819.3,179.8 L814.6,180.5 L809.9,181.1 L805.2,181.8 L800.6,182.5 L795.9,183.2 L791.3,184.0 L786.6,184.8 L782.0,185.5 L777.4,186.4 L772.7,187.2 L768.1,188.0 L763.5,188.9 L758.9,189.8 L754.3,190.7 L749.7,191.6 L745.2,192.5 L743.6,193.1 L742.4,194.1 L741.5,195.4 L741.0,197.0 L741.1,198.6 L741.7,200.1 L742.7,201.4 L744.0,202.3 L745.6,202.7 L747.2,202.7 L751.7,201.8 L756.3,201.0 L760.8,200.1 L765.4,199.3 L770.0,198.5 L774.6,197.7 L779.2,197.0 L783.7,196.3 L788.3,195.5 L793.0,194.8 L797.6,194.2 L802.2,193.5 L806.8,192.9 L811.4,192.2 L816.1,191.6 L820.7,191.1 L825.4,190.5 L830.0,190.0 L834.7,189.5 L839.3,189.0 L844.0,188.5 L848.7,188.0 L853.3,187.6 L858.0,187.2 L862.7,186.8 L867.4,186.4 L872.0,186.1 L876.7,185.7 L881.4,185.4 L886.1,185.1 L890.8,184.9 L895.5,184.6 L900.2,184.4 L904.9,184.2 L909.6,184.0 L914.3,183.8 L919.0,183.7 L923.7,183.6 L928.4,183.5 L933.2,183.4 L937.9,183.3 L942.6,183.3 L947.3,183.3 L952.0,183.3 L956.7,183.3 L961.4,183.4 L966.1,183.5 L970.8,183.6 L975.5,183.7 L980.3,183.9 L985.0,184.1 L989.7,184.3 L994.4,184.5 L999.1,184.8 L1003.8,185.0 L1008.5,185.3 L1013.1,185.7 L1017.8,186.0 L1022.5,186.3 L1027.2,186.7 L1031.9,187.1 L1036.6,187.5 L1041.2,188.0 L1045.9,188.4 L1050.6,188.9 L1055.2,189.4 L1059.9,189.9 L1064.5,190.5 L1069.2,191.0 L1073.8,191.6 L1078.4,192.2 L1083.1,192.8 L1087.7,193.5 L1092.3,194.1 L1096.9,194.8 L1101.5,195.5 L1104.2,195.5 L1106.7,194.6 L1108.7,193.0 L1110.3,190.9 L1111.0,188.4 L1111.0,185.7 L1110.1,183.2 L1108.5,181.2 L1106.4,179.6Z" fill="#fff"/>
<path d="M832.8,300.7 L831.7,299.4 L830.5,298.1 L829.3,296.9 L828.2,295.6 L827.0,294.3 L825.8,293.0 L824.6,291.7 L823.5,290.4 L822.3,289.2 L821.1,287.9 L819.9,286.6 L818.7,285.3 L817.5,284.0 L816.4,282.7 L815.2,281.4 L814.0,280.2 L812.8,278.9 L811.6,277.6 L810.4,276.3 L809.1,275.0 L807.9,273.7 L806.7,272.4 L805.5,271.1 L804.3,269.9 L803.1,268.6 L801.9,267.3 L800.6,266.0 L799.4,264.7 L798.2,263.4 L796.9,262.1 L795.7,260.8 L794.5,259.5 L793.2,258.3 L792.0,257.0 L790.7,255.7 L789.5,254.4 L788.2,253.1 L787.0,251.8 L785.7,250.5 L784.5,249.2 L783.2,247.9 L781.9,246.6 L780.7,245.3 L779.4,244.1 L778.1,242.8 L776.8,241.5 L775.6,240.2 L774.3,238.9 L773.0,237.6 L771.7,236.3 L770.4,235.0 L769.1,233.7 L767.8,232.4 L766.5,231.1 L765.2,229.9 L763.9,228.6 L762.6,227.3 L761.3,226.0 L760.0,224.7 L758.7,223.4 L757.3,222.1 L756.0,220.8 L754.7,219.5 L753.4,218.2 L751.9,217.2 L750.2,216.6 L748.5,216.7 L746.8,217.2 L745.4,218.2 L744.3,219.7 L743.8,221.4 L743.8,223.1 L744.3,224.8 L745.4,226.3 L746.7,227.6 L748.0,228.9 L749.2,230.2 L750.5,231.5 L751.8,232.8 L753.1,234.1 L754.3,235.5 L755.6,236.8 L756.9,238.1 L758.1,239.4 L759.4,240.7 L760.6,242.0 L761.9,243.3 L763.1,244.6 L764.4,246.0 L765.6,247.3 L766.9,248.6 L768.1,249.9 L769.3,251.2 L770.6,252.5 L771.8,253.8 L773.0,255.2 L774.3,256.5 L775.5,257.8 L776.7,259.1 L777.9,260.4 L779.1,261.7 L780.3,263.0 L781.5,264.3 L782.8,265.6 L784.0,267.0 L785.2,268.3 L786.3,269.6 L787.5,270.9 L788.7,272.2 L789.9,273.5 L791.1,274.8 L792.3,276.1 L793.5,277.4 L794.6,278.7 L795.8,280.1 L797.0,281.4 L798.2,282.7 L799.3,284.0 L800.5,285.3 L801.7,286.6 L802.8,287.9 L804.0,289.2 L805.1,290.5 L806.3,291.8 L807.4,293.1 L808.6,294.4 L809.7,295.7 L810.9,297.1 L812.0,298.4 L813.2,299.7 L814.3,301.0 L815.4,302.3 L816.6,303.6 L817.7,304.9 L818.8,306.2 L819.9,307.5 L821.1,308.8 L822.2,310.1 L823.9,311.5 L826.0,312.3 L828.2,312.5 L830.3,311.9 L832.2,310.7 L833.6,309.0 L834.4,306.9 L834.6,304.7 L834.0,302.6Z" fill="#fff"/>
<path d="M939.3,161.5 L936.6,161.7 L933.9,161.9 L931.1,162.1 L928.4,162.4 L925.7,162.6 L923.0,162.9 L920.3,163.1 L917.5,163.4 L914.8,163.6 L912.1,163.9 L909.4,164.2 L906.7,164.5 L904.0,164.8 L901.3,165.1 L898.6,165.4 L895.9,165.7 L893.2,166.1 L890.4,166.4 L887.7,166.7 L885.1,167.1 L882.4,167.5 L879.7,167.8 L877.0,168.2 L874.3,168.6 L871.6,168.9 L868.9,169.3 L866.2,169.7 L863.5,170.0 L860.8,170.4 L858.2,170.8 L855.5,171.1 L852.8,171.5 L850.1,171.9 L847.4,172.3 L844.8,172.7 L842.1,173.1 L839.4,173.5 L836.7,173.9 L834.1,174.3 L831.4,174.7 L828.7,175.2 L826.1,175.6 L823.4,176.1 L820.8,176.5 L818.1,177.0 L815.5,177.4 L812.8,177.9 L810.2,178.4 L807.5,178.9 L804.9,179.4 L802.2,179.9 L799.6,180.4 L797.0,180.9 L794.3,181.4 L791.7,181.9 L789.1,182.5 L786.5,183.0 L783.8,183.5 L781.2,184.1 L778.6,184.6 L776.0,185.2 L773.4,185.8 L770.8,186.3 L768.2,186.9 L765.6,187.5 L763.0,188.1 L760.4,188.7 L757.8,189.3 L755.2,189.9 L752.6,190.5 L750.0,191.1 L747.4,191.8 L746.0,192.3 L744.9,193.3 L744.1,194.6 L743.8,196.0 L743.9,197.5 L744.4,198.9 L745.4,200.0 L746.6,200.8 L748.1,201.2 L749.6,201.1 L752.2,200.5 L754.7,199.9 L757.3,199.4 L759.9,198.8 L762.5,198.3 L765.1,197.7 L767.6,197.2 L770.2,196.7 L772.8,196.2 L775.4,195.7 L778.0,195.2 L780.6,194.7 L783.2,194.2 L785.8,193.7 L788.4,193.2 L791.0,192.7 L793.7,192.2 L796.3,191.8 L798.9,191.3 L801.5,190.9 L804.1,190.4 L806.8,190.0 L809.4,189.5 L812.0,189.1 L814.6,188.7 L817.3,188.3 L819.9,187.9 L822.5,187.5 L825.2,187.1 L827.8,186.7 L830.5,186.3 L833.1,185.9 L835.7,185.6 L838.4,185.2 L841.0,184.9 L843.7,184.5 L846.3,184.2 L849.0,183.8 L851.7,183.5 L854.3,183.2 L857.0,182.9 L859.6,182.6 L862.3,182.3 L865.0,182.0 L867.6,181.7 L870.3,181.4 L873.0,181.2 L875.6,181.0 L878.3,180.8 L881.0,180.6 L883.7,180.4 L886.4,180.2 L889.0,180.0 L891.7,179.8 L894.4,179.7 L897.1,179.5 L899.8,179.4 L902.4,179.2 L905.1,179.1 L907.8,179.0 L910.5,178.8 L913.2,178.7 L915.9,178.6 L918.6,178.5 L921.3,178.4 L923.9,178.3 L926.6,178.2 L929.3,178.2 L932.0,178.1 L934.7,178.0 L937.4,178.0 L940.1,177.9 L942.6,177.4 L944.9,176.1 L946.6,174.2 L947.7,171.9 L947.9,169.3 L947.4,166.8 L946.1,164.5 L944.2,162.8 L941.9,161.7Z" fill="#fff"/>
<path d="M1134.2,147.6 L1129.0,147.2 L1123.8,146.9 L1118.6,146.6 L1113.4,146.3 L1108.1,146.1 L1102.9,145.8 L1097.7,145.6 L1092.4,145.5 L1087.2,145.3 L1082.0,145.2 L1076.7,145.1 L1071.5,145.0 L1066.3,145.0 L1061.0,145.0 L1055.8,145.0 L1050.6,145.0 L1045.3,145.0 L1040.1,145.0 L1034.8,145.1 L1029.6,145.2 L1024.4,145.3 L1019.1,145.5 L1013.9,145.7 L1008.7,145.9 L1003.5,146.1 L998.2,146.3 L993.0,146.6 L987.8,146.9 L982.6,147.3 L977.4,147.6 L972.2,148.0 L967.0,148.5 L961.8,148.9 L956.6,149.4 L951.4,149.9 L946.2,150.4 L941.0,150.9 L935.8,151.5 L930.7,152.1 L925.5,152.7 L920.4,153.3 L915.2,154.0 L910.1,154.7 L904.9,155.4 L899.8,156.2 L894.7,156.9 L889.6,157.7 L884.5,158.5 L879.4,159.4 L874.3,160.3 L869.2,161.1 L864.1,162.1 L859.1,163.0 L854.0,164.0 L849.0,164.9 L844.0,166.0 L838.9,167.0 L833.9,168.0 L828.9,169.1 L823.9,170.2 L818.9,171.3 L814.0,172.5 L809.0,173.6 L804.1,174.8 L799.1,176.0 L794.2,177.2 L789.3,178.5 L784.4,179.8 L779.5,181.0 L774.6,182.4 L769.7,183.7 L764.9,185.0 L760.0,186.4 L755.2,187.8 L750.4,189.2 L745.6,190.6 L744.1,191.3 L742.9,192.5 L742.1,193.9 L741.8,195.5 L742.0,197.1 L742.7,198.6 L743.8,199.8 L745.3,200.6 L746.9,200.9 L748.5,200.7 L753.3,199.4 L758.1,198.1 L762.9,196.8 L767.7,195.5 L772.6,194.2 L777.4,193.0 L782.2,191.8 L787.1,190.6 L792.0,189.4 L796.9,188.3 L801.8,187.2 L806.7,186.1 L811.6,185.0 L816.5,183.9 L821.5,182.9 L826.4,181.9 L831.4,180.9 L836.3,179.9 L841.3,178.9 L846.3,178.0 L851.3,177.1 L856.3,176.3 L861.3,175.4 L866.3,174.6 L871.3,173.8 L876.4,173.0 L881.4,172.3 L886.5,171.5 L891.5,170.8 L896.6,170.2 L901.6,169.5 L906.7,168.9 L911.8,168.3 L916.9,167.7 L922.0,167.1 L927.1,166.6 L932.2,166.1 L937.3,165.6 L942.4,165.2 L947.5,164.7 L952.6,164.3 L957.8,164.0 L962.9,163.6 L968.0,163.3 L973.2,163.0 L978.3,162.7 L983.4,162.5 L988.6,162.3 L993.7,162.1 L998.9,161.9 L1004.0,161.8 L1009.2,161.7 L1014.3,161.6 L1019.5,161.6 L1024.6,161.5 L1029.8,161.5 L1034.9,161.5 L1040.1,161.6 L1045.2,161.7 L1050.4,161.8 L1055.5,161.9 L1060.7,162.1 L1065.8,162.3 L1071.0,162.5 L1076.1,162.8 L1081.2,163.1 L1086.4,163.5 L1091.5,163.8 L1096.6,164.2 L1101.7,164.6 L1106.9,165.0 L1112.0,165.5 L1117.1,166.0 L1122.2,166.5 L1127.3,167.0 L1132.4,167.6 L1135.5,167.4 L1138.5,166.2 L1140.9,164.2 L1142.5,161.5 L1143.3,158.5 L1143.1,155.4 L1141.9,152.4 L1139.9,150.0 L1137.2,148.4Z" fill="#fff"/>
<path d="M821.5,338.3 L820.5,336.6 L819.5,334.9 L818.5,333.3 L817.4,331.6 L816.4,329.9 L815.4,328.2 L814.4,326.5 L813.4,324.8 L812.4,323.1 L811.3,321.4 L810.3,319.7 L809.3,318.0 L808.3,316.3 L807.2,314.6 L806.2,312.9 L805.1,311.2 L804.1,309.4 L803.1,307.7 L802.0,306.0 L801.0,304.3 L799.9,302.6 L798.8,300.9 L797.8,299.2 L796.7,297.4 L795.7,295.7 L794.6,294.0 L793.5,292.3 L792.4,290.5 L791.4,288.8 L790.3,287.1 L789.2,285.4 L788.1,283.6 L787.0,281.9 L785.9,280.2 L784.8,278.4 L783.8,276.7 L782.6,274.9 L781.5,273.2 L780.4,271.5 L779.3,269.7 L778.2,268.0 L777.1,266.2 L776.0,264.5 L774.9,262.7 L773.7,261.0 L772.6,259.2 L771.5,257.5 L770.3,255.7 L769.2,253.9 L768.0,252.2 L766.9,250.4 L765.8,248.7 L764.6,246.9 L763.4,245.1 L762.3,243.4 L761.1,241.6 L760.0,239.8 L758.8,238.0 L757.6,236.3 L756.4,234.5 L755.2,232.7 L754.1,230.9 L752.9,229.2 L751.8,227.9 L750.3,227.1 L748.7,226.8 L747.1,226.9 L745.6,227.6 L744.4,228.7 L743.5,230.2 L743.2,231.8 L743.4,233.4 L744.1,234.9 L745.2,236.7 L746.3,238.5 L747.5,240.3 L748.6,242.1 L749.8,243.9 L750.9,245.7 L752.0,247.4 L753.1,249.2 L754.3,251.0 L755.4,252.8 L756.5,254.6 L757.6,256.3 L758.7,258.1 L759.8,259.9 L760.9,261.7 L762.0,263.4 L763.1,265.2 L764.2,267.0 L765.3,268.7 L766.4,270.5 L767.4,272.3 L768.5,274.0 L769.6,275.8 L770.7,277.5 L771.7,279.3 L772.8,281.0 L773.9,282.8 L774.9,284.5 L776.0,286.3 L777.0,288.0 L778.1,289.8 L779.1,291.5 L780.2,293.3 L781.2,295.0 L782.2,296.8 L783.3,298.5 L784.3,300.2 L785.3,302.0 L786.3,303.7 L787.4,305.4 L788.4,307.2 L789.4,308.9 L790.4,310.6 L791.4,312.4 L792.4,314.1 L793.4,315.8 L794.4,317.5 L795.4,319.2 L796.4,321.0 L797.4,322.7 L798.4,324.4 L799.4,326.1 L800.4,327.8 L801.4,329.5 L802.4,331.2 L803.3,333.0 L804.3,334.7 L805.3,336.4 L806.3,338.1 L807.2,339.8 L808.2,341.5 L809.2,343.2 L810.1,344.9 L811.4,346.5 L813.1,347.6 L815.1,348.1 L817.2,348.0 L819.1,347.3 L820.7,346.0 L821.8,344.3 L822.3,342.3 L822.2,340.2Z" fill="#fff"/></g>
<g><path d="M1063.7,207.6 L1059.6,206.9 L1055.5,206.2 L1051.4,205.5 L1047.3,204.9 L1043.1,204.2 L1039.0,203.6 L1034.9,203.0 L1030.7,202.4 L1026.6,201.8 L1022.4,201.2 L1018.3,200.6 L1014.1,200.1 L1009.9,199.6 L1005.8,199.0 L1001.6,198.5 L997.4,198.1 L993.2,197.6 L989.1,197.1 L984.9,196.7 L980.7,196.3 L976.5,195.9 L972.3,195.5 L968.1,195.1 L963.9,194.8 L959.7,194.4 L955.5,194.0 L951.3,193.6 L947.1,193.3 L942.9,193.0 L938.6,192.6 L934.4,192.3 L930.2,192.1 L926.0,191.8 L921.8,191.5 L917.5,191.3 L913.3,191.1 L909.1,190.9 L904.9,190.7 L900.6,190.5 L896.4,190.4 L892.2,190.2 L887.9,190.1 L883.7,190.0 L879.5,189.9 L875.2,189.8 L871.0,189.8 L866.8,189.8 L862.5,189.7 L858.3,189.7 L854.0,189.7 L849.8,189.8 L845.6,189.8 L841.3,189.9 L837.1,190.0 L832.9,190.1 L828.6,190.2 L824.4,190.4 L820.2,190.5 L815.9,190.7 L811.7,190.9 L807.5,191.1 L803.2,191.3 L799.0,191.6 L794.8,191.8 L790.6,192.1 L786.4,192.4 L782.2,192.7 L777.9,193.0 L773.7,193.4 L769.5,193.7 L765.3,194.1 L761.1,194.5 L756.9,194.9 L752.7,195.3 L748.5,195.7 L747.5,196.0 L746.6,196.6 L745.9,197.4 L745.5,198.4 L745.4,199.5 L745.7,200.6 L746.3,201.5 L747.1,202.2 L748.1,202.6 L749.2,202.6 L753.4,202.3 L757.5,201.9 L761.7,201.6 L765.9,201.3 L770.1,201.0 L774.3,200.7 L778.5,200.5 L782.6,200.2 L786.8,200.0 L791.0,199.8 L795.2,199.6 L799.4,199.4 L803.6,199.3 L807.8,199.2 L812.0,199.0 L816.2,198.9 L820.4,198.8 L824.6,198.7 L828.8,198.7 L833.0,198.6 L837.2,198.6 L841.4,198.6 L845.6,198.6 L849.8,198.6 L854.0,198.7 L858.2,198.7 L862.4,198.8 L866.6,198.8 L870.8,198.9 L875.0,199.1 L879.2,199.2 L883.4,199.3 L887.6,199.5 L891.8,199.7 L896.0,199.9 L900.2,200.1 L904.4,200.3 L908.6,200.5 L912.8,200.8 L917.0,201.1 L921.1,201.4 L925.3,201.7 L929.5,202.0 L933.7,202.3 L937.8,202.7 L942.0,203.1 L946.2,203.5 L950.3,203.9 L954.5,204.3 L958.7,204.7 L962.8,205.2 L966.9,205.8 L971.1,206.3 L975.2,206.9 L979.3,207.4 L983.5,208.0 L987.6,208.6 L991.7,209.3 L995.8,209.9 L999.9,210.6 L1004.0,211.2 L1008.1,211.9 L1012.2,212.6 L1016.3,213.3 L1020.4,214.1 L1024.5,214.8 L1028.5,215.6 L1032.6,216.3 L1036.6,217.1 L1040.7,217.9 L1044.7,218.7 L1048.8,219.6 L1052.8,220.4 L1056.8,221.3 L1060.9,222.2 L1063.2,222.2 L1065.4,221.6 L1067.3,220.3 L1068.8,218.5 L1069.6,216.3 L1069.6,214.0 L1069.0,211.8 L1067.7,209.9 L1065.9,208.4Z" fill="url(#gDC)"/>
<path d="M1103.5,181.2 L1098.9,180.6 L1094.2,180.0 L1089.5,179.4 L1084.8,178.9 L1080.1,178.4 L1075.4,177.9 L1070.7,177.4 L1065.9,177.0 L1061.2,176.6 L1056.5,176.1 L1051.8,175.8 L1047.0,175.4 L1042.3,175.0 L1037.6,174.7 L1032.8,174.4 L1028.1,174.1 L1023.3,173.9 L1018.6,173.6 L1013.8,173.4 L1009.1,173.2 L1004.3,173.0 L999.6,172.9 L994.8,172.8 L990.1,172.7 L985.3,172.6 L980.5,172.5 L975.8,172.4 L971.0,172.4 L966.3,172.4 L961.5,172.4 L956.7,172.5 L952.0,172.5 L947.2,172.5 L942.5,172.6 L937.7,172.7 L932.9,172.8 L928.2,173.0 L923.4,173.1 L918.7,173.3 L913.9,173.5 L909.2,173.8 L904.4,174.0 L899.7,174.3 L894.9,174.6 L890.2,174.9 L885.5,175.2 L880.7,175.6 L876.0,176.0 L871.3,176.3 L866.5,176.8 L861.8,177.2 L857.1,177.7 L852.4,178.1 L847.7,178.6 L843.0,179.2 L838.3,179.7 L833.6,180.3 L828.9,180.9 L824.2,181.5 L819.6,182.1 L814.9,182.7 L810.2,183.4 L805.6,184.1 L800.9,184.8 L796.3,185.5 L791.6,186.3 L787.0,187.0 L782.4,187.8 L777.7,188.6 L773.1,189.4 L768.5,190.3 L763.9,191.1 L759.3,192.0 L754.7,192.9 L750.2,193.8 L745.6,194.8 L744.8,195.1 L744.1,195.6 L743.6,196.4 L743.3,197.3 L743.3,198.2 L743.7,199.0 L744.2,199.7 L745.0,200.2 L745.8,200.5 L746.7,200.4 L751.3,199.5 L755.9,198.7 L760.4,197.9 L765.0,197.0 L769.6,196.3 L774.2,195.5 L778.8,194.7 L783.4,194.0 L788.0,193.3 L792.6,192.6 L797.2,191.9 L801.9,191.2 L806.5,190.6 L811.1,190.0 L815.8,189.4 L820.4,188.8 L825.1,188.2 L829.7,187.7 L834.4,187.2 L839.1,186.7 L843.7,186.2 L848.4,185.7 L853.1,185.3 L857.8,184.9 L862.5,184.5 L867.2,184.1 L871.9,183.8 L876.6,183.4 L881.3,183.1 L886.0,182.8 L890.7,182.6 L895.4,182.3 L900.1,182.1 L904.8,181.9 L909.5,181.7 L914.2,181.5 L918.9,181.4 L923.7,181.3 L928.4,181.2 L933.1,181.1 L937.8,181.0 L942.5,181.0 L947.3,181.0 L952.0,181.0 L956.7,181.0 L961.4,181.1 L966.2,181.2 L970.9,181.3 L975.6,181.4 L980.3,181.6 L985.0,181.8 L989.7,182.0 L994.4,182.2 L999.2,182.5 L1003.9,182.8 L1008.6,183.0 L1013.3,183.4 L1018.0,183.7 L1022.7,184.0 L1027.4,184.4 L1032.0,184.8 L1036.7,185.2 L1041.4,185.7 L1046.1,186.1 L1050.8,186.6 L1055.4,187.1 L1060.1,187.6 L1064.8,188.2 L1069.4,188.7 L1074.1,189.3 L1078.7,189.9 L1083.3,190.5 L1088.0,191.2 L1092.6,191.9 L1097.2,192.5 L1101.9,193.2 L1103.8,193.2 L1105.6,192.6 L1107.1,191.4 L1108.2,189.9 L1108.7,188.0 L1108.7,186.1 L1108.1,184.3 L1106.9,182.8 L1105.4,181.7Z" fill="url(#gNY)"/>
<path d="M831.1,302.2 L829.9,300.9 L828.8,299.7 L827.6,298.4 L826.4,297.1 L825.3,295.8 L824.1,294.5 L822.9,293.3 L821.8,292.0 L820.6,290.7 L819.4,289.4 L818.2,288.1 L817.0,286.8 L815.8,285.6 L814.6,284.3 L813.5,283.0 L812.3,281.7 L811.1,280.4 L809.9,279.1 L808.7,277.8 L807.5,276.6 L806.2,275.3 L805.0,274.0 L803.8,272.7 L802.6,271.4 L801.4,270.1 L800.2,268.8 L798.9,267.6 L797.7,266.3 L796.5,265.0 L795.3,263.7 L794.0,262.4 L792.8,261.1 L791.5,259.8 L790.3,258.5 L789.1,257.3 L787.8,256.0 L786.6,254.7 L785.3,253.4 L784.1,252.1 L782.8,250.8 L781.5,249.5 L780.3,248.2 L779.0,246.9 L777.7,245.7 L776.5,244.4 L775.2,243.1 L773.9,241.8 L772.6,240.5 L771.3,239.2 L770.1,237.9 L768.8,236.6 L767.5,235.3 L766.2,234.0 L764.9,232.8 L763.6,231.5 L762.3,230.2 L761.0,228.9 L759.7,227.6 L758.3,226.3 L757.0,225.0 L755.7,223.7 L754.4,222.4 L753.1,221.1 L751.7,219.9 L750.9,219.2 L749.9,218.9 L748.8,218.9 L747.8,219.2 L747.0,219.9 L746.4,220.7 L746.1,221.7 L746.1,222.8 L746.4,223.8 L747.0,224.6 L748.3,225.9 L749.6,227.3 L750.9,228.6 L752.1,229.9 L753.4,231.2 L754.7,232.5 L756.0,233.8 L757.2,235.1 L758.5,236.5 L759.8,237.8 L761.0,239.1 L762.3,240.4 L763.5,241.7 L764.8,243.0 L766.0,244.4 L767.3,245.7 L768.5,247.0 L769.8,248.3 L771.0,249.6 L772.2,250.9 L773.5,252.2 L774.7,253.6 L775.9,254.9 L777.1,256.2 L778.4,257.5 L779.6,258.8 L780.8,260.1 L782.0,261.4 L783.2,262.8 L784.4,264.1 L785.6,265.4 L786.8,266.7 L788.0,268.0 L789.2,269.3 L790.4,270.6 L791.6,271.9 L792.8,273.3 L794.0,274.6 L795.2,275.9 L796.3,277.2 L797.5,278.5 L798.7,279.8 L799.9,281.1 L801.0,282.4 L802.2,283.7 L803.4,285.0 L804.5,286.4 L805.7,287.7 L806.8,289.0 L808.0,290.3 L809.1,291.6 L810.3,292.9 L811.4,294.2 L812.6,295.5 L813.7,296.8 L814.9,298.1 L816.0,299.4 L817.1,300.7 L818.3,302.0 L819.4,303.4 L820.5,304.7 L821.7,306.0 L822.8,307.3 L823.9,308.6 L825.1,309.5 L826.5,310.1 L828.0,310.2 L829.4,309.8 L830.7,309.0 L831.6,307.8 L832.2,306.4 L832.3,304.9 L831.9,303.5Z" fill="url(#gDallas)"/>
<path d="M939.4,163.8 L936.7,164.0 L934.0,164.2 L931.3,164.4 L928.5,164.7 L925.8,164.9 L923.1,165.2 L920.4,165.4 L917.7,165.7 L915.0,165.9 L912.3,166.2 L909.6,166.5 L906.9,166.8 L904.2,167.1 L901.5,167.4 L898.8,167.7 L896.1,168.0 L893.4,168.4 L890.7,168.7 L888.0,169.0 L885.3,169.4 L882.6,169.7 L879.9,170.1 L877.2,170.5 L874.5,170.8 L871.8,171.2 L869.2,171.6 L866.5,172.0 L863.8,172.3 L861.1,172.7 L858.4,173.0 L855.8,173.4 L853.1,173.8 L850.4,174.2 L847.7,174.5 L845.1,174.9 L842.4,175.3 L839.7,175.7 L837.1,176.2 L834.4,176.6 L831.7,177.0 L829.1,177.4 L826.4,177.9 L823.8,178.3 L821.1,178.8 L818.5,179.2 L815.8,179.7 L813.2,180.2 L810.6,180.7 L807.9,181.1 L805.3,181.6 L802.6,182.1 L800.0,182.6 L797.4,183.1 L794.8,183.7 L792.1,184.2 L789.5,184.7 L786.9,185.2 L784.3,185.8 L781.7,186.3 L779.1,186.9 L776.4,187.4 L773.8,188.0 L771.2,188.6 L768.6,189.2 L766.0,189.7 L763.4,190.3 L760.9,190.9 L758.3,191.5 L755.7,192.1 L753.1,192.8 L750.5,193.4 L747.9,194.0 L747.2,194.3 L746.6,194.8 L746.2,195.5 L746.0,196.2 L746.1,197.0 L746.4,197.7 L746.9,198.3 L747.5,198.7 L748.3,198.9 L749.1,198.8 L751.6,198.3 L754.2,197.7 L756.8,197.1 L759.4,196.6 L762.0,196.0 L764.6,195.5 L767.2,195.0 L769.8,194.4 L772.4,193.9 L775.0,193.4 L777.6,192.9 L780.2,192.4 L782.8,191.9 L785.4,191.4 L788.0,190.9 L790.6,190.4 L793.2,190.0 L795.9,189.5 L798.5,189.1 L801.1,188.6 L803.7,188.2 L806.4,187.7 L809.0,187.3 L811.6,186.9 L814.3,186.4 L816.9,186.0 L819.5,185.6 L822.2,185.2 L824.8,184.8 L827.5,184.4 L830.1,184.0 L832.8,183.7 L835.4,183.3 L838.1,182.9 L840.7,182.6 L843.4,182.2 L846.0,181.9 L848.7,181.6 L851.3,181.2 L854.0,180.9 L856.7,180.6 L859.3,180.3 L862.0,180.0 L864.7,179.7 L867.4,179.4 L870.0,179.1 L872.7,178.9 L875.4,178.7 L878.1,178.5 L880.8,178.3 L883.4,178.1 L886.1,177.9 L888.8,177.7 L891.5,177.6 L894.2,177.4 L896.9,177.2 L899.6,177.1 L902.3,176.9 L904.9,176.8 L907.6,176.7 L910.3,176.5 L913.0,176.4 L915.7,176.3 L918.4,176.2 L921.1,176.1 L923.8,176.0 L926.5,175.9 L929.2,175.9 L931.9,175.8 L934.6,175.7 L937.3,175.7 L940.0,175.6 L941.8,175.3 L943.4,174.3 L944.7,173.0 L945.4,171.3 L945.6,169.4 L945.3,167.6 L944.3,166.0 L943.0,164.7 L941.3,164.0Z" fill="url(#gChicago)"/>
<path d="M1134.0,149.9 L1128.8,149.5 L1123.6,149.2 L1118.4,148.9 L1113.2,148.6 L1108.0,148.4 L1102.8,148.1 L1097.5,147.9 L1092.3,147.8 L1087.1,147.6 L1081.9,147.5 L1076.7,147.4 L1071.4,147.3 L1066.2,147.3 L1061.0,147.3 L1055.8,147.3 L1050.5,147.3 L1045.3,147.3 L1040.1,147.3 L1034.9,147.4 L1029.6,147.5 L1024.4,147.6 L1019.2,147.8 L1014.0,147.9 L1008.8,148.2 L1003.5,148.4 L998.3,148.6 L993.1,148.9 L987.9,149.2 L982.7,149.6 L977.5,149.9 L972.3,150.3 L967.1,150.7 L961.9,151.2 L956.8,151.7 L951.6,152.2 L946.4,152.7 L941.2,153.2 L936.1,153.8 L930.9,154.4 L925.8,155.0 L920.6,155.6 L915.5,156.3 L910.4,157.0 L905.2,157.7 L900.1,158.4 L895.0,159.2 L889.9,160.0 L884.8,160.8 L879.7,161.7 L874.7,162.5 L869.6,163.4 L864.5,164.3 L859.5,165.3 L854.4,166.2 L849.4,167.2 L844.4,168.2 L839.4,169.2 L834.4,170.3 L829.4,171.4 L824.4,172.5 L819.4,173.6 L814.5,174.7 L809.5,175.9 L804.6,177.0 L799.7,178.2 L794.7,179.5 L789.8,180.7 L784.9,182.0 L780.1,183.3 L775.2,184.6 L770.3,185.9 L765.5,187.3 L760.7,188.6 L755.8,190.0 L751.0,191.4 L746.2,192.9 L745.4,193.2 L744.7,193.9 L744.3,194.7 L744.1,195.6 L744.2,196.5 L744.6,197.3 L745.3,198.0 L746.1,198.4 L747.0,198.6 L747.9,198.5 L752.7,197.2 L757.5,195.8 L762.3,194.5 L767.1,193.3 L772.0,192.0 L776.8,190.8 L781.7,189.6 L786.6,188.4 L791.4,187.2 L796.3,186.0 L801.2,184.9 L806.2,183.8 L811.1,182.7 L816.0,181.7 L821.0,180.6 L825.9,179.6 L830.9,178.6 L835.9,177.6 L840.9,176.7 L845.8,175.8 L850.9,174.9 L855.9,174.0 L860.9,173.1 L865.9,172.3 L871.0,171.5 L876.0,170.7 L881.1,170.0 L886.1,169.3 L891.2,168.6 L896.3,167.9 L901.3,167.2 L906.4,166.6 L911.5,166.0 L916.6,165.4 L921.7,164.9 L926.8,164.3 L931.9,163.8 L937.1,163.3 L942.2,162.9 L947.3,162.5 L952.4,162.1 L957.6,161.7 L962.7,161.3 L967.9,161.0 L973.0,160.7 L978.2,160.5 L983.3,160.2 L988.5,160.0 L993.6,159.8 L998.8,159.6 L1003.9,159.5 L1009.1,159.4 L1014.3,159.3 L1019.4,159.3 L1024.6,159.2 L1029.8,159.2 L1034.9,159.2 L1040.1,159.3 L1045.2,159.4 L1050.4,159.5 L1055.6,159.6 L1060.7,159.8 L1065.9,160.0 L1071.0,160.2 L1076.2,160.5 L1081.3,160.8 L1086.5,161.2 L1091.6,161.5 L1096.8,161.9 L1101.9,162.3 L1107.0,162.8 L1112.1,163.2 L1117.3,163.7 L1122.4,164.2 L1127.5,164.8 L1132.6,165.3 L1135.0,165.2 L1137.3,164.3 L1139.1,162.7 L1140.4,160.6 L1141.0,158.3 L1140.9,155.9 L1140.0,153.6 L1138.4,151.8 L1136.3,150.5Z" fill="url(#gBoston)"/>
<path d="M819.5,339.5 L818.5,337.8 L817.5,336.1 L816.5,334.4 L815.5,332.7 L814.4,331.0 L813.4,329.3 L812.4,327.6 L811.4,325.9 L810.4,324.2 L809.4,322.6 L808.3,320.9 L807.3,319.2 L806.3,317.4 L805.2,315.7 L804.2,314.0 L803.2,312.3 L802.1,310.6 L801.1,308.9 L800.0,307.2 L799.0,305.5 L797.9,303.8 L796.9,302.1 L795.8,300.3 L794.8,298.6 L793.7,296.9 L792.6,295.2 L791.6,293.5 L790.5,291.7 L789.4,290.0 L788.3,288.3 L787.2,286.6 L786.2,284.8 L785.1,283.1 L784.0,281.4 L782.9,279.6 L781.8,277.9 L780.7,276.1 L779.6,274.4 L778.5,272.7 L777.4,270.9 L776.3,269.2 L775.1,267.4 L774.0,265.7 L772.9,263.9 L771.8,262.2 L770.7,260.4 L769.5,258.7 L768.4,256.9 L767.2,255.2 L766.1,253.4 L765.0,251.7 L763.8,249.9 L762.7,248.1 L761.5,246.4 L760.3,244.6 L759.2,242.8 L758.0,241.1 L756.8,239.3 L755.7,237.5 L754.5,235.7 L753.3,234.0 L752.1,232.2 L750.9,230.4 L750.3,229.7 L749.5,229.3 L748.6,229.1 L747.7,229.2 L746.8,229.5 L746.1,230.2 L745.7,231.0 L745.5,231.9 L745.6,232.8 L746.0,233.7 L747.1,235.5 L748.3,237.3 L749.4,239.0 L750.6,240.8 L751.7,242.6 L752.8,244.4 L754.0,246.2 L755.1,248.0 L756.2,249.8 L757.3,251.5 L758.4,253.3 L759.5,255.1 L760.7,256.9 L761.8,258.7 L762.9,260.4 L764.0,262.2 L765.0,264.0 L766.1,265.7 L767.2,267.5 L768.3,269.3 L769.4,271.0 L770.5,272.8 L771.5,274.6 L772.6,276.3 L773.7,278.1 L774.7,279.8 L775.8,281.6 L776.9,283.3 L777.9,285.1 L779.0,286.8 L780.0,288.6 L781.1,290.3 L782.1,292.1 L783.2,293.8 L784.2,295.6 L785.2,297.3 L786.3,299.0 L787.3,300.8 L788.3,302.5 L789.3,304.3 L790.4,306.0 L791.4,307.7 L792.4,309.4 L793.4,311.2 L794.4,312.9 L795.4,314.6 L796.4,316.3 L797.4,318.1 L798.4,319.8 L799.4,321.5 L800.4,323.2 L801.4,324.9 L802.4,326.7 L803.4,328.4 L804.4,330.1 L805.3,331.8 L806.3,333.5 L807.3,335.2 L808.3,336.9 L809.2,338.6 L810.2,340.3 L811.2,342.0 L812.1,343.7 L813.0,344.8 L814.1,345.5 L815.4,345.8 L816.7,345.8 L817.9,345.3 L819.0,344.4 L819.7,343.3 L820.0,342.0 L820.0,340.7Z" fill="url(#gAustin)"/></g>
<g><path d="M748.0,190.4 L743.8,190.8 L739.6,191.3 L735.4,191.7 L731.2,192.2 L727.0,192.7 L724.3,193.4 L722.1,194.9 L720.3,197.1 L719.4,199.6 L719.3,202.4 L720.0,205.1 L721.5,207.3 L723.7,209.1 L726.2,210.0 L729.0,210.1 L733.1,209.7 L737.3,209.2 L741.4,208.8 L745.6,208.3 L749.7,207.9 L752.4,207.2 L754.7,205.8 L756.5,203.6 L757.5,201.1 L757.6,198.3 L756.9,195.7 L755.4,193.3 L753.3,191.6 L750.7,190.6Z" fill="#0a0a10"/><path d="M748.3,193.4 L744.1,193.8 L739.9,194.3 L735.7,194.7 L731.5,195.2 L727.3,195.6 L725.6,196.1 L724.1,197.1 L723.0,198.5 L722.3,200.2 L722.2,202.1 L722.7,203.8 L723.7,205.3 L725.1,206.4 L726.8,207.1 L728.7,207.2 L732.8,206.7 L737.0,206.2 L741.1,205.8 L745.3,205.4 L749.4,205.0 L751.2,204.5 L752.7,203.5 L753.9,202.1 L754.5,200.4 L754.6,198.6 L754.2,196.9 L753.2,195.3 L751.8,194.2 L750.1,193.5Z" fill="url(#gDC)"/>
<path d="M518.9,81.7 L521.8,83.2 L524.6,84.6 L527.5,86.1 L530.3,87.6 L533.1,89.1 L535.9,90.5 L538.8,92.0 L541.6,93.5 L544.3,95.0 L547.1,96.5 L549.9,98.0 L552.7,99.6 L555.4,101.1 L558.2,102.6 L560.9,104.1 L563.6,105.7 L566.3,107.2 L569.1,108.8 L571.8,110.3 L574.5,111.9 L577.1,113.4 L579.8,115.0 L582.5,116.5 L585.1,118.1 L587.8,119.7 L590.4,121.3 L593.1,122.8 L595.7,124.4 L598.3,126.0 L601.0,127.5 L603.6,129.1 L606.2,130.6 L608.8,132.2 L611.4,133.8 L614.0,135.4 L616.6,136.9 L619.2,138.5 L621.7,140.1 L624.3,141.7 L626.8,143.3 L629.4,144.8 L631.9,146.4 L634.5,148.0 L637.0,149.5 L639.5,151.1 L642.1,152.7 L644.6,154.3 L647.1,155.9 L649.6,157.5 L652.1,159.1 L654.5,160.7 L657.0,162.3 L659.5,163.9 L661.9,165.5 L664.3,167.1 L666.8,168.7 L669.2,170.3 L671.6,171.9 L674.0,173.6 L676.4,175.2 L678.8,176.8 L681.2,178.4 L683.6,180.1 L686.0,181.7 L688.3,183.3 L690.7,185.0 L693.0,186.6 L695.4,188.3 L697.7,189.9 L700.0,191.6 L702.3,193.2 L704.6,194.9 L706.9,196.5 L709.2,198.2 L711.5,199.9 L713.8,201.5 L716.0,203.2 L718.3,204.9 L720.5,206.5 L722.8,208.2 L725.1,209.5 L727.8,209.9 L730.4,209.6 L732.8,208.4 L734.8,206.6 L736.1,204.3 L736.5,201.6 L736.2,199.0 L735.0,196.6 L733.2,194.6 L731.0,192.9 L728.8,191.1 L726.5,189.4 L724.3,187.6 L722.1,185.8 L719.8,184.1 L717.6,182.3 L715.3,180.6 L713.0,178.8 L710.7,177.1 L708.4,175.3 L706.1,173.6 L703.8,171.8 L701.5,170.1 L699.2,168.3 L696.9,166.6 L694.5,164.8 L692.2,163.1 L689.9,161.3 L687.5,159.6 L685.2,157.8 L682.8,156.1 L680.4,154.3 L678.0,152.6 L675.6,150.8 L673.2,149.1 L670.8,147.3 L668.4,145.6 L666.0,143.9 L663.6,142.1 L661.1,140.4 L658.7,138.6 L656.2,136.9 L653.8,135.2 L651.3,133.4 L648.8,131.7 L646.3,130.0 L643.8,128.2 L641.3,126.5 L638.8,124.8 L636.3,123.1 L633.7,121.4 L631.2,119.7 L628.6,118.0 L626.0,116.3 L623.4,114.6 L620.8,113.0 L618.2,111.3 L615.6,109.6 L613.0,107.9 L610.4,106.3 L607.8,104.6 L605.1,103.0 L602.4,101.4 L599.7,99.7 L597.0,98.1 L594.3,96.5 L591.6,94.9 L588.9,93.3 L586.2,91.7 L583.4,90.1 L580.7,88.5 L577.9,86.9 L575.2,85.3 L572.4,83.8 L569.6,82.2 L566.8,80.6 L564.0,79.1 L561.2,77.5 L558.4,76.0 L555.5,74.4 L552.7,72.9 L549.9,71.3 L547.0,69.8 L544.1,68.3 L541.3,66.7 L538.4,65.2 L535.5,63.7 L532.6,62.2 L529.7,60.7 L526.2,59.6 L522.5,59.5 L519.0,60.7 L516.0,62.8 L513.8,65.8 L512.7,69.3 L512.6,73.0 L513.8,76.5 L515.9,79.5Z" fill="#0a0a10"/><path d="M520.3,79.0 L523.2,80.5 L526.0,82.0 L528.9,83.4 L531.7,84.9 L534.5,86.4 L537.4,87.9 L540.2,89.4 L543.0,90.9 L545.8,92.4 L548.6,93.9 L551.3,95.4 L554.1,96.9 L556.9,98.5 L559.6,100.0 L562.4,101.5 L565.1,103.1 L567.8,104.6 L570.6,106.2 L573.3,107.7 L576.0,109.3 L578.7,110.8 L581.3,112.4 L584.0,114.0 L586.7,115.5 L589.3,117.1 L592.0,118.7 L594.6,120.3 L597.3,121.9 L599.9,123.4 L602.5,125.0 L605.2,126.5 L607.8,128.1 L610.4,129.7 L613.0,131.2 L615.6,132.8 L618.2,134.4 L620.8,136.0 L623.4,137.6 L625.9,139.1 L628.5,140.7 L631.0,142.3 L633.6,143.9 L636.1,145.5 L638.7,147.0 L641.2,148.6 L643.7,150.2 L646.2,151.8 L648.7,153.4 L651.2,155.0 L653.7,156.6 L656.2,158.2 L658.7,159.8 L661.2,161.4 L663.6,163.0 L666.1,164.6 L668.5,166.2 L670.9,167.9 L673.4,169.5 L675.8,171.1 L678.2,172.7 L680.6,174.4 L683.0,176.0 L685.4,177.6 L687.7,179.2 L690.1,180.9 L692.5,182.5 L694.8,184.2 L697.1,185.9 L699.5,187.5 L701.8,189.2 L704.1,190.8 L706.4,192.5 L708.7,194.1 L711.0,195.8 L713.3,197.5 L715.6,199.1 L717.8,200.8 L720.1,202.5 L722.4,204.1 L724.6,205.8 L726.1,206.6 L727.9,206.9 L729.6,206.7 L731.1,206.0 L732.4,204.8 L733.2,203.3 L733.5,201.5 L733.3,199.8 L732.6,198.3 L731.4,197.0 L729.2,195.2 L727.0,193.5 L724.7,191.7 L722.5,190.0 L720.3,188.2 L718.0,186.5 L715.8,184.7 L713.5,183.0 L711.2,181.2 L708.9,179.5 L706.7,177.7 L704.4,176.0 L702.1,174.3 L699.8,172.5 L697.4,170.8 L695.1,169.0 L692.8,167.3 L690.5,165.5 L688.1,163.8 L685.8,162.0 L683.4,160.3 L681.1,158.5 L678.7,156.8 L676.3,155.0 L673.9,153.3 L671.5,151.6 L669.1,149.8 L666.7,148.1 L664.3,146.3 L661.9,144.6 L659.4,142.9 L657.0,141.1 L654.6,139.4 L652.1,137.7 L649.6,135.9 L647.2,134.2 L644.7,132.5 L642.2,130.7 L639.7,129.0 L637.2,127.3 L634.6,125.6 L632.1,123.9 L629.5,122.2 L627.0,120.5 L624.4,118.9 L621.8,117.2 L619.3,115.5 L616.7,113.8 L614.1,112.2 L611.4,110.5 L608.8,108.8 L606.2,107.2 L603.5,105.5 L600.9,103.9 L598.2,102.3 L595.5,100.7 L592.8,99.1 L590.1,97.5 L587.4,95.9 L584.7,94.3 L581.9,92.7 L579.2,91.1 L576.4,89.5 L573.7,88.0 L570.9,86.4 L568.1,84.8 L565.3,83.3 L562.6,81.7 L559.7,80.1 L556.9,78.6 L554.1,77.0 L551.3,75.5 L548.4,74.0 L545.6,72.4 L542.7,70.9 L539.9,69.4 L537.0,67.9 L534.1,66.4 L531.2,64.9 L528.3,63.4 L525.7,62.5 L522.9,62.5 L520.3,63.3 L518.1,65.0 L516.5,67.2 L515.6,69.8 L515.6,72.6 L516.4,75.2 L518.1,77.4Z" fill="url(#gSeattle)"/>
<path d="M646.2,305.6 L647.3,304.4 L648.3,303.2 L649.4,302.1 L650.5,300.9 L651.5,299.7 L652.6,298.5 L653.7,297.3 L654.8,296.2 L655.8,295.0 L656.9,293.8 L658.0,292.6 L659.1,291.4 L660.1,290.2 L661.2,289.0 L662.3,287.8 L663.4,286.6 L664.4,285.4 L665.5,284.2 L666.6,283.0 L667.7,281.8 L668.8,280.6 L669.8,279.4 L670.9,278.2 L672.0,277.0 L673.1,275.8 L674.2,274.5 L675.2,273.3 L676.3,272.1 L677.4,270.9 L678.5,269.7 L679.6,268.4 L680.7,267.2 L681.8,266.0 L682.9,264.8 L683.9,263.5 L685.0,262.3 L686.1,261.1 L687.2,259.8 L688.3,258.6 L689.4,257.4 L690.5,256.1 L691.6,254.9 L692.7,253.6 L693.8,252.4 L694.8,251.1 L695.9,249.9 L697.0,248.6 L698.1,247.4 L699.2,246.1 L700.3,244.9 L701.4,243.6 L702.5,242.4 L703.6,241.1 L704.7,239.8 L705.8,238.6 L706.9,237.3 L708.0,236.0 L709.1,234.8 L710.2,233.5 L711.3,232.2 L712.4,230.9 L713.5,229.7 L714.6,228.4 L715.7,227.1 L716.8,225.8 L717.9,224.6 L719.1,223.3 L720.2,222.0 L721.3,220.7 L722.4,219.4 L723.5,218.1 L724.6,216.8 L725.7,215.5 L726.9,214.3 L728.0,213.0 L729.1,211.7 L730.2,210.4 L731.3,209.1 L732.5,207.8 L733.6,206.5 L734.9,204.5 L735.5,202.2 L735.4,199.9 L734.6,197.7 L733.1,195.8 L731.1,194.5 L728.8,193.9 L726.5,194.0 L724.3,194.8 L722.4,196.3 L721.2,197.6 L720.0,198.8 L718.9,200.1 L717.7,201.3 L716.5,202.5 L715.3,203.8 L714.1,205.0 L713.0,206.2 L711.8,207.5 L710.6,208.7 L709.4,209.9 L708.3,211.2 L707.1,212.4 L705.9,213.6 L704.7,214.8 L703.6,216.1 L702.4,217.3 L701.2,218.5 L700.1,219.7 L698.9,220.9 L697.8,222.1 L696.6,223.4 L695.4,224.6 L694.3,225.8 L693.1,227.0 L692.0,228.2 L690.8,229.4 L689.6,230.6 L688.5,231.8 L687.3,233.0 L686.2,234.2 L685.0,235.4 L683.9,236.6 L682.7,237.8 L681.6,239.0 L680.4,240.2 L679.3,241.4 L678.1,242.6 L677.0,243.7 L675.9,244.9 L674.7,246.1 L673.6,247.3 L672.4,248.5 L671.3,249.7 L670.2,250.9 L669.1,252.0 L667.9,253.2 L666.8,254.4 L665.7,255.6 L664.5,256.8 L663.4,257.9 L662.3,259.1 L661.2,260.3 L660.0,261.4 L658.9,262.6 L657.8,263.8 L656.7,264.9 L655.5,266.1 L654.4,267.2 L653.3,268.4 L652.2,269.6 L651.1,270.7 L649.9,271.9 L648.8,273.0 L647.7,274.2 L646.6,275.3 L645.5,276.5 L644.4,277.6 L643.2,278.8 L642.1,279.9 L641.0,281.0 L639.9,282.2 L638.8,283.3 L637.7,284.4 L636.6,285.6 L635.5,286.7 L634.3,287.8 L633.2,289.0 L632.1,290.1 L631.0,291.2 L629.2,293.9 L628.2,297.0 L628.3,300.3 L629.4,303.4 L631.4,306.0 L634.1,307.8 L637.2,308.8 L640.5,308.7 L643.6,307.6Z" fill="#0a0a10"/><path d="M644.0,303.5 L645.1,302.4 L646.1,301.2 L647.2,300.0 L648.3,298.8 L649.4,297.6 L650.4,296.5 L651.5,295.3 L652.6,294.1 L653.6,292.9 L654.7,291.7 L655.8,290.5 L656.9,289.3 L657.9,288.1 L659.0,287.0 L660.1,285.8 L661.2,284.6 L662.2,283.4 L663.3,282.2 L664.4,281.0 L665.5,279.8 L666.6,278.5 L667.6,277.3 L668.7,276.1 L669.8,274.9 L670.9,273.7 L672.0,272.5 L673.0,271.3 L674.1,270.1 L675.2,268.8 L676.3,267.6 L677.4,266.4 L678.5,265.2 L679.6,264.0 L680.7,262.7 L681.7,261.5 L682.8,260.3 L683.9,259.0 L685.0,257.8 L686.1,256.6 L687.2,255.3 L688.3,254.1 L689.4,252.9 L690.5,251.6 L691.5,250.4 L692.6,249.1 L693.7,247.9 L694.8,246.6 L695.9,245.4 L697.0,244.1 L698.1,242.8 L699.2,241.6 L700.3,240.3 L701.4,239.1 L702.5,237.8 L703.6,236.5 L704.7,235.3 L705.8,234.0 L706.9,232.7 L708.0,231.5 L709.1,230.2 L710.2,228.9 L711.3,227.6 L712.4,226.4 L713.5,225.1 L714.6,223.8 L715.7,222.5 L716.8,221.3 L717.9,220.0 L719.1,218.7 L720.2,217.4 L721.3,216.1 L722.4,214.8 L723.5,213.5 L724.6,212.2 L725.8,210.9 L726.9,209.7 L728.0,208.4 L729.1,207.1 L730.2,205.8 L731.4,204.5 L732.1,203.3 L732.5,201.9 L732.5,200.5 L732.0,199.1 L731.1,198.0 L729.9,197.3 L728.5,196.9 L727.1,196.9 L725.7,197.4 L724.6,198.3 L723.4,199.6 L722.3,200.8 L721.1,202.1 L719.9,203.3 L718.7,204.5 L717.5,205.8 L716.4,207.0 L715.2,208.3 L714.0,209.5 L712.8,210.7 L711.7,212.0 L710.5,213.2 L709.3,214.4 L708.1,215.6 L707.0,216.9 L705.8,218.1 L704.6,219.3 L703.5,220.5 L702.3,221.7 L701.1,223.0 L700.0,224.2 L698.8,225.4 L697.6,226.6 L696.5,227.8 L695.3,229.0 L694.2,230.2 L693.0,231.4 L691.9,232.6 L690.7,233.8 L689.6,235.0 L688.4,236.2 L687.2,237.4 L686.1,238.6 L684.9,239.8 L683.8,241.0 L682.6,242.2 L681.5,243.4 L680.4,244.6 L679.2,245.8 L678.1,247.0 L676.9,248.1 L675.8,249.3 L674.7,250.5 L673.5,251.7 L672.4,252.9 L671.3,254.1 L670.1,255.3 L669.0,256.4 L667.9,257.6 L666.7,258.8 L665.6,260.0 L664.5,261.1 L663.4,262.3 L662.2,263.5 L661.1,264.6 L660.0,265.8 L658.9,267.0 L657.7,268.1 L656.6,269.3 L655.5,270.5 L654.4,271.6 L653.2,272.8 L652.1,273.9 L651.0,275.1 L649.9,276.2 L648.8,277.4 L647.7,278.5 L646.5,279.7 L645.4,280.8 L644.3,281.9 L643.2,283.1 L642.1,284.2 L641.0,285.4 L639.9,286.5 L638.7,287.6 L637.6,288.8 L636.5,289.9 L635.4,291.0 L634.3,292.1 L633.2,293.3 L631.9,295.2 L631.2,297.4 L631.3,299.8 L632.1,302.0 L633.5,303.8 L635.4,305.1 L637.6,305.8 L640.0,305.7 L642.2,304.9Z" fill="url(#gPhoenix)"/>
<path d="M744.4,189.0 L739.8,189.9 L735.3,190.8 L730.7,191.8 L726.1,192.8 L723.6,193.8 L721.4,195.5 L719.9,197.8 L719.2,200.5 L719.4,203.3 L720.4,205.8 L722.1,208.0 L724.4,209.5 L727.1,210.2 L729.9,210.0 L734.4,209.0 L738.9,208.1 L743.4,207.1 L747.9,206.2 L750.5,205.3 L752.7,203.6 L754.2,201.3 L754.9,198.6 L754.8,195.9 L753.8,193.3 L752.1,191.1 L749.8,189.6 L747.2,188.9Z" fill="#0a0a10"/><path d="M745.0,191.9 L740.5,192.8 L735.9,193.8 L731.3,194.8 L726.8,195.7 L725.1,196.4 L723.7,197.5 L722.7,199.1 L722.2,200.8 L722.3,202.6 L723.0,204.3 L724.1,205.7 L725.7,206.7 L727.4,207.2 L729.2,207.1 L733.7,206.1 L738.3,205.1 L742.8,204.2 L747.3,203.3 L749.0,202.7 L750.4,201.5 L751.4,200.0 L751.9,198.3 L751.9,196.4 L751.2,194.7 L750.1,193.3 L748.6,192.3 L746.8,191.8Z" fill="url(#gNY)"/>
<path d="M576.7,301.9 L578.6,300.8 L580.5,299.7 L582.4,298.6 L584.2,297.5 L586.1,296.3 L588.0,295.2 L589.9,294.1 L591.8,293.0 L593.7,291.9 L595.6,290.8 L597.5,289.6 L599.4,288.5 L601.3,287.4 L603.2,286.3 L605.1,285.1 L607.0,284.0 L608.9,282.9 L610.8,281.7 L612.7,280.6 L614.6,279.5 L616.5,278.3 L618.4,277.2 L620.3,276.1 L622.3,275.0 L624.2,273.8 L626.1,272.7 L628.1,271.6 L630.0,270.5 L631.9,269.4 L633.9,268.2 L635.8,267.1 L637.7,266.0 L639.7,264.8 L641.6,263.7 L643.6,262.6 L645.5,261.5 L647.5,260.3 L649.4,259.2 L651.4,258.1 L653.3,256.9 L655.3,255.8 L657.2,254.7 L659.2,253.5 L661.2,252.4 L663.1,251.3 L665.1,250.1 L667.1,249.0 L669.0,247.8 L671.0,246.7 L673.0,245.6 L674.9,244.4 L676.9,243.2 L678.9,242.0 L680.8,240.8 L682.8,239.7 L684.7,238.5 L686.7,237.3 L688.7,236.1 L690.6,234.9 L692.6,233.8 L694.6,232.6 L696.6,231.4 L698.6,230.2 L700.5,229.0 L702.5,227.8 L704.5,226.7 L706.5,225.5 L708.5,224.3 L710.5,223.1 L712.5,221.9 L714.5,220.7 L716.5,219.6 L718.5,218.4 L720.5,217.2 L722.5,216.0 L724.5,214.8 L726.5,213.7 L728.5,212.5 L730.5,211.3 L732.5,210.1 L735.0,208.3 L736.8,205.8 L737.7,202.9 L737.7,199.8 L736.7,196.9 L734.9,194.4 L732.4,192.6 L729.5,191.7 L726.4,191.7 L723.5,192.7 L721.4,193.7 L719.2,194.6 L717.1,195.6 L715.0,196.6 L712.8,197.5 L710.7,198.5 L708.6,199.5 L706.5,200.4 L704.3,201.4 L702.2,202.4 L700.1,203.4 L698.0,204.3 L695.9,205.3 L693.8,206.3 L691.7,207.2 L689.6,208.2 L687.5,209.2 L685.4,210.1 L683.3,211.1 L681.2,212.1 L679.1,213.0 L677.0,214.0 L674.9,215.0 L672.8,215.9 L670.7,216.9 L668.6,217.9 L666.6,218.8 L664.5,219.8 L662.4,220.7 L660.3,221.7 L658.3,222.7 L656.2,223.7 L654.2,224.7 L652.1,225.7 L650.1,226.7 L648.0,227.7 L646.0,228.7 L643.9,229.7 L641.9,230.7 L639.9,231.7 L637.8,232.6 L635.8,233.6 L633.8,234.6 L631.7,235.6 L629.7,236.6 L627.7,237.6 L625.7,238.6 L623.7,239.6 L621.6,240.6 L619.6,241.5 L617.6,242.5 L615.6,243.5 L613.6,244.5 L611.6,245.5 L609.6,246.4 L607.6,247.4 L605.6,248.4 L603.6,249.4 L601.6,250.3 L599.6,251.3 L597.6,252.2 L595.6,253.2 L593.6,254.2 L591.6,255.1 L589.6,256.0 L587.6,257.0 L585.6,257.9 L583.6,258.9 L581.6,259.8 L579.6,260.8 L577.6,261.7 L575.7,262.6 L573.7,263.6 L571.7,264.5 L569.7,265.4 L567.8,266.4 L565.8,267.3 L563.8,268.2 L561.8,269.2 L559.9,270.1 L555.4,273.5 L552.1,278.1 L550.5,283.5 L550.6,289.1 L552.4,294.4 L555.8,298.9 L560.4,302.2 L565.8,303.8 L571.4,303.7Z" fill="#0a0a10"/><path d="M575.3,299.3 L577.2,298.1 L579.1,297.0 L581.0,295.9 L582.8,294.8 L584.7,293.7 L586.6,292.6 L588.5,291.5 L590.4,290.3 L592.3,289.2 L594.2,288.1 L596.1,287.0 L598.0,285.9 L599.9,284.7 L601.8,283.6 L603.7,282.5 L605.6,281.3 L607.5,280.2 L609.4,279.1 L611.3,278.0 L613.2,276.8 L615.1,275.7 L617.0,274.6 L618.9,273.4 L620.9,272.3 L622.8,271.2 L624.7,270.1 L626.6,269.0 L628.6,267.8 L630.5,266.7 L632.5,265.6 L634.4,264.5 L636.3,263.3 L638.3,262.2 L640.2,261.1 L642.2,259.9 L644.1,258.8 L646.1,257.7 L648.0,256.6 L650.0,255.4 L651.9,254.3 L653.9,253.2 L655.8,252.0 L657.8,250.9 L659.8,249.7 L661.7,248.6 L663.7,247.5 L665.7,246.3 L667.6,245.2 L669.6,244.1 L671.6,242.9 L673.5,241.7 L675.5,240.5 L677.4,239.4 L679.4,238.2 L681.4,237.0 L683.3,235.8 L685.3,234.6 L687.3,233.5 L689.2,232.3 L691.2,231.1 L693.2,229.9 L695.2,228.7 L697.2,227.6 L699.1,226.4 L701.1,225.2 L703.1,224.0 L705.1,222.8 L707.1,221.6 L709.1,220.5 L711.1,219.3 L713.1,218.1 L715.1,216.9 L717.1,215.7 L719.1,214.5 L721.1,213.4 L723.1,212.2 L725.1,211.0 L727.1,209.8 L729.1,208.6 L731.1,207.4 L732.8,206.2 L734.1,204.4 L734.7,202.4 L734.7,200.3 L734.0,198.3 L732.8,196.6 L731.0,195.3 L729.0,194.7 L726.9,194.7 L724.9,195.4 L722.7,196.3 L720.6,197.3 L718.5,198.3 L716.3,199.2 L714.2,200.2 L712.1,201.2 L710.0,202.1 L707.9,203.1 L705.7,204.1 L703.6,205.0 L701.5,206.0 L699.4,207.0 L697.3,207.9 L695.2,208.9 L693.1,209.9 L691.0,210.8 L688.9,211.8 L686.8,212.8 L684.7,213.7 L682.6,214.7 L680.5,215.7 L678.4,216.6 L676.3,217.6 L674.2,218.6 L672.1,219.5 L670.0,220.5 L668.0,221.5 L665.9,222.4 L663.8,223.4 L661.7,224.4 L659.7,225.3 L657.6,226.3 L655.6,227.3 L653.5,228.3 L651.5,229.3 L649.4,230.3 L647.4,231.3 L645.3,232.3 L643.3,233.3 L641.3,234.3 L639.2,235.3 L637.2,236.3 L635.2,237.3 L633.2,238.3 L631.1,239.3 L629.1,240.2 L627.1,241.2 L625.1,242.2 L623.0,243.2 L621.0,244.2 L619.0,245.2 L617.0,246.2 L615.0,247.1 L613.0,248.1 L611.0,249.1 L609.0,250.1 L607.0,251.1 L605.0,252.0 L603.0,253.0 L601.0,253.9 L599.0,254.9 L597.0,255.8 L595.0,256.8 L593.0,257.7 L591.0,258.7 L589.0,259.6 L587.0,260.6 L585.0,261.5 L583.0,262.5 L581.0,263.4 L579.1,264.4 L577.1,265.3 L575.1,266.2 L573.1,267.2 L571.1,268.1 L569.2,269.0 L567.2,270.0 L565.2,270.9 L563.3,271.8 L561.3,272.7 L557.5,275.6 L554.8,279.4 L553.4,283.9 L553.5,288.6 L555.0,293.0 L557.9,296.8 L561.7,299.5 L566.2,300.9 L570.9,300.8Z" fill="url(#gLA)"/>
<path d="M754.5,217.1 L753.2,215.8 L751.9,214.4 L750.6,213.1 L749.2,211.8 L747.9,210.5 L746.6,209.2 L745.2,207.9 L743.9,206.6 L742.5,205.3 L741.2,204.0 L739.8,202.7 L738.5,201.4 L737.1,200.0 L735.8,198.7 L734.4,197.4 L733.0,196.1 L731.2,194.8 L729.0,194.2 L726.7,194.2 L724.5,195.0 L722.7,196.4 L721.4,198.2 L720.8,200.4 L720.8,202.7 L721.6,204.9 L723.0,206.7 L724.3,208.0 L725.7,209.3 L727.0,210.6 L728.3,211.9 L729.7,213.2 L731.0,214.5 L732.4,215.7 L733.7,217.0 L735.0,218.3 L736.3,219.6 L737.7,220.9 L739.0,222.2 L740.3,223.5 L741.6,224.8 L742.9,226.1 L744.2,227.4 L746.1,228.8 L748.3,229.5 L750.5,229.4 L752.7,228.7 L754.6,227.4 L755.9,225.5 L756.6,223.4 L756.6,221.1 L755.9,218.9Z" fill="#0a0a10"/><path d="M752.4,219.2 L751.1,217.9 L749.8,216.6 L748.4,215.3 L747.1,214.0 L745.8,212.7 L744.5,211.4 L743.1,210.0 L741.8,208.7 L740.4,207.4 L739.1,206.1 L737.8,204.8 L736.4,203.5 L735.1,202.2 L733.7,200.9 L732.3,199.6 L731.0,198.3 L729.9,197.5 L728.6,197.1 L727.2,197.2 L726.0,197.6 L724.9,198.4 L724.1,199.5 L723.7,200.8 L723.8,202.2 L724.2,203.4 L725.0,204.5 L726.4,205.8 L727.7,207.1 L729.1,208.4 L730.4,209.7 L731.8,211.0 L733.1,212.3 L734.5,213.6 L735.8,214.9 L737.1,216.2 L738.4,217.5 L739.8,218.8 L741.1,220.1 L742.4,221.4 L743.7,222.7 L745.0,224.0 L746.3,225.3 L747.4,226.1 L748.7,226.5 L750.1,226.5 L751.3,226.1 L752.4,225.3 L753.2,224.2 L753.6,222.9 L753.6,221.6 L753.2,220.3Z" fill="url(#gDallas)"/>
<path d="M746.4,187.5 L743.8,188.1 L741.2,188.7 L738.6,189.3 L736.1,189.9 L733.5,190.6 L730.9,191.2 L728.3,191.8 L725.8,192.5 L723.1,193.6 L720.9,195.5 L719.5,198.0 L718.8,200.8 L719.1,203.6 L720.2,206.3 L722.1,208.5 L724.6,209.9 L727.4,210.6 L730.2,210.3 L732.8,209.7 L735.3,209.0 L737.9,208.4 L740.4,207.8 L742.9,207.2 L745.5,206.6 L748.0,206.0 L750.6,205.4 L753.3,204.3 L755.5,202.4 L757.0,200.0 L757.7,197.2 L757.5,194.3 L756.4,191.7 L754.5,189.5 L752.1,187.9 L749.3,187.2Z" fill="#0a0a10"/><path d="M747.1,190.4 L744.5,191.0 L741.9,191.6 L739.3,192.2 L736.8,192.8 L734.2,193.5 L731.6,194.1 L729.0,194.7 L726.5,195.4 L724.7,196.2 L723.2,197.4 L722.2,199.1 L721.8,201.0 L722.0,202.9 L722.8,204.7 L724.0,206.2 L725.7,207.2 L727.6,207.6 L729.5,207.4 L732.1,206.8 L734.6,206.1 L737.1,205.5 L739.7,204.9 L742.2,204.3 L744.8,203.7 L747.4,203.1 L749.9,202.5 L751.7,201.7 L753.2,200.5 L754.2,198.8 L754.7,196.9 L754.5,195.0 L753.8,193.2 L752.6,191.7 L750.9,190.7 L749.0,190.2Z" fill="url(#gChicago)"/>
<path d="M744.5,186.8 L739.7,188.3 L734.9,189.7 L730.1,191.1 L725.3,192.6 L722.7,193.9 L720.6,195.9 L719.3,198.4 L718.8,201.3 L719.2,204.1 L720.5,206.7 L722.5,208.8 L725.0,210.1 L727.9,210.6 L730.7,210.2 L735.4,208.7 L740.1,207.3 L744.9,205.9 L749.6,204.5 L752.2,203.3 L754.3,201.3 L755.7,198.8 L756.2,195.9 L755.9,193.1 L754.6,190.5 L752.7,188.4 L750.1,187.0 L747.3,186.5Z" fill="#0a0a10"/><path d="M745.3,189.7 L740.5,191.1 L735.7,192.6 L730.9,194.0 L726.2,195.5 L724.4,196.3 L723.0,197.7 L722.1,199.4 L721.8,201.3 L722.1,203.2 L722.9,205.0 L724.3,206.4 L726.0,207.3 L727.9,207.6 L729.8,207.3 L734.6,205.9 L739.3,204.4 L744.0,203.0 L748.8,201.6 L750.6,200.8 L752.0,199.5 L752.9,197.8 L753.3,195.9 L753.0,193.9 L752.2,192.2 L750.8,190.8 L749.1,189.8 L747.2,189.5Z" fill="url(#gBoston)"/>
<path d="M532.0,256.7 L534.4,256.0 L536.8,255.2 L539.1,254.5 L541.5,253.7 L543.9,253.0 L546.3,252.3 L548.6,251.5 L551.0,250.8 L553.4,250.1 L555.8,249.4 L558.2,248.6 L560.6,247.9 L563.0,247.2 L565.4,246.5 L567.8,245.8 L570.2,245.1 L572.6,244.4 L575.0,243.7 L577.4,243.0 L579.8,242.3 L582.2,241.7 L584.6,241.0 L587.0,240.3 L589.5,239.6 L591.9,239.0 L594.3,238.3 L596.8,237.7 L599.2,237.0 L601.6,236.3 L604.1,235.7 L606.5,235.1 L609.0,234.4 L611.4,233.8 L613.9,233.2 L616.3,232.6 L618.8,232.1 L621.3,231.5 L623.7,230.9 L626.2,230.4 L628.7,229.8 L631.2,229.3 L633.6,228.7 L636.1,228.2 L638.6,227.6 L641.1,227.1 L643.6,226.6 L646.1,226.0 L648.5,225.5 L651.0,225.0 L653.5,224.5 L656.0,224.0 L658.5,223.5 L661.0,223.0 L663.5,222.5 L666.0,222.0 L668.5,221.5 L671.0,221.0 L673.6,220.5 L676.1,220.0 L678.6,219.5 L681.1,219.0 L683.6,218.5 L686.1,218.1 L688.6,217.6 L691.2,217.1 L693.7,216.7 L696.2,216.2 L698.7,215.7 L701.2,215.3 L703.8,214.8 L706.3,214.4 L708.8,214.0 L711.4,213.5 L713.9,213.1 L716.4,212.7 L719.0,212.3 L721.5,211.8 L724.0,211.4 L726.6,211.0 L729.1,210.6 L731.9,209.8 L734.3,208.2 L736.1,205.9 L737.1,203.2 L737.2,200.3 L736.4,197.5 L734.8,195.1 L732.5,193.3 L729.8,192.3 L726.9,192.2 L724.3,192.4 L721.7,192.6 L719.1,192.9 L716.5,193.1 L713.9,193.4 L711.3,193.6 L708.7,193.9 L706.1,194.1 L703.5,194.4 L700.9,194.7 L698.3,194.9 L695.8,195.2 L693.2,195.5 L690.6,195.8 L688.0,196.1 L685.4,196.4 L682.8,196.7 L680.2,197.0 L677.7,197.3 L675.1,197.6 L672.5,197.9 L669.9,198.3 L667.4,198.6 L664.8,199.0 L662.2,199.3 L659.6,199.7 L657.1,200.1 L654.5,200.5 L652.0,200.8 L649.4,201.2 L646.8,201.6 L644.3,202.0 L641.7,202.4 L639.2,202.8 L636.6,203.2 L634.1,203.6 L631.5,204.1 L629.0,204.5 L626.4,204.9 L623.9,205.3 L621.3,205.8 L618.8,206.2 L616.2,206.7 L613.7,207.1 L611.2,207.6 L608.6,208.0 L606.1,208.5 L603.6,208.9 L601.0,209.3 L598.5,209.7 L596.0,210.2 L593.4,210.6 L590.9,211.0 L588.4,211.5 L585.8,211.9 L583.3,212.4 L580.8,212.8 L578.3,213.3 L575.7,213.7 L573.2,214.2 L570.7,214.7 L568.2,215.1 L565.7,215.6 L563.2,216.1 L560.7,216.6 L558.2,217.1 L555.7,217.6 L553.2,218.0 L550.7,218.5 L548.2,219.0 L545.7,219.6 L543.2,220.1 L540.7,220.6 L538.2,221.1 L535.7,221.6 L533.3,222.1 L530.8,222.7 L528.3,223.2 L525.8,223.7 L523.4,224.3 L518.6,226.4 L514.7,229.9 L512.0,234.5 L510.9,239.6 L511.5,244.8 L513.6,249.6 L517.1,253.5 L521.7,256.2 L526.8,257.3Z" fill="#0a0a10"/><path d="M531.3,253.8 L533.6,253.1 L536.0,252.3 L538.4,251.6 L540.7,250.8 L543.1,250.1 L545.5,249.4 L547.9,248.6 L550.3,247.9 L552.7,247.2 L555.0,246.5 L557.4,245.7 L559.8,245.0 L562.2,244.3 L564.6,243.6 L567.0,242.9 L569.5,242.2 L571.9,241.5 L574.3,240.8 L576.7,240.1 L579.1,239.4 L581.5,238.7 L584.0,238.1 L586.4,237.4 L588.8,236.7 L591.2,236.0 L593.7,235.4 L596.1,234.7 L598.6,234.1 L601.0,233.4 L603.4,232.8 L605.9,232.1 L608.3,231.5 L610.8,230.9 L613.3,230.3 L615.7,229.7 L618.2,229.1 L620.7,228.6 L623.1,228.0 L625.6,227.4 L628.1,226.9 L630.6,226.3 L633.1,225.8 L635.6,225.2 L638.0,224.7 L640.5,224.1 L643.0,223.6 L645.5,223.1 L648.0,222.6 L650.5,222.0 L653.0,221.5 L655.5,221.0 L658.0,220.5 L660.5,220.0 L663.0,219.5 L665.5,219.0 L668.0,218.5 L670.6,218.0 L673.1,217.5 L675.6,217.0 L678.1,216.6 L680.6,216.1 L683.1,215.6 L685.7,215.1 L688.2,214.6 L690.7,214.2 L693.2,213.7 L695.8,213.2 L698.3,212.8 L700.8,212.3 L703.4,211.9 L705.9,211.4 L708.4,211.0 L711.0,210.6 L713.5,210.1 L716.0,209.7 L718.6,209.3 L721.1,208.9 L723.7,208.5 L726.2,208.1 L728.8,207.7 L730.7,207.1 L732.3,206.0 L733.5,204.5 L734.2,202.6 L734.3,200.6 L733.7,198.7 L732.6,197.1 L731.1,195.9 L729.2,195.2 L727.2,195.1 L724.7,195.4 L722.1,195.6 L719.5,195.8 L716.9,196.1 L714.3,196.3 L711.7,196.6 L709.1,196.8 L706.5,197.1 L703.9,197.4 L701.4,197.6 L698.8,197.9 L696.2,198.2 L693.6,198.5 L691.0,198.8 L688.4,199.0 L685.9,199.3 L683.3,199.6 L680.7,200.0 L678.1,200.3 L675.6,200.6 L673.0,200.9 L670.4,201.2 L667.8,201.6 L665.3,201.9 L662.7,202.3 L660.2,202.7 L657.6,203.0 L655.0,203.4 L652.5,203.8 L649.9,204.2 L647.4,204.6 L644.8,205.0 L642.3,205.4 L639.7,205.8 L637.2,206.2 L634.6,206.6 L632.1,207.0 L629.5,207.4 L627.0,207.9 L624.4,208.3 L621.9,208.7 L619.4,209.2 L616.8,209.6 L614.3,210.0 L611.8,210.5 L609.2,210.9 L606.7,211.4 L604.2,211.8 L601.7,212.2 L599.1,212.7 L596.6,213.1 L594.1,213.5 L591.5,214.0 L589.0,214.4 L586.5,214.8 L584.0,215.3 L581.5,215.7 L578.9,216.2 L576.4,216.7 L573.9,217.1 L571.4,217.6 L568.9,218.1 L566.4,218.5 L563.9,219.0 L561.4,219.5 L558.9,220.0 L556.4,220.5 L553.9,221.0 L551.4,221.5 L548.9,222.0 L546.4,222.5 L543.9,223.0 L541.5,223.5 L539.0,224.0 L536.5,224.5 L534.0,225.0 L531.5,225.6 L529.1,226.1 L526.6,226.6 L524.1,227.2 L520.2,228.9 L517.0,231.8 L514.8,235.5 L513.9,239.8 L514.4,244.1 L516.1,248.0 L519.0,251.2 L522.7,253.4 L527.0,254.3Z" fill="url(#gBayArea)"/>
<path d="M755.1,227.7 L753.9,225.9 L752.8,224.1 L751.6,222.3 L750.4,220.5 L749.2,218.7 L748.0,216.9 L746.8,215.1 L745.6,213.3 L744.4,211.5 L743.2,209.6 L742.0,207.8 L740.7,206.0 L739.5,204.2 L738.3,202.4 L737.0,200.6 L735.8,198.7 L734.6,196.9 L732.9,195.1 L730.7,193.9 L728.2,193.5 L725.8,193.8 L723.5,194.8 L721.7,196.5 L720.5,198.7 L720.1,201.2 L720.4,203.6 L721.4,205.9 L722.7,207.7 L723.9,209.5 L725.1,211.3 L726.3,213.1 L727.5,214.9 L728.8,216.7 L730.0,218.5 L731.2,220.3 L732.4,222.1 L733.6,223.9 L734.7,225.7 L735.9,227.5 L737.1,229.3 L738.3,231.0 L739.5,232.8 L740.6,234.6 L741.8,236.4 L743.5,238.2 L745.6,239.5 L748.1,240.0 L750.6,239.7 L752.8,238.7 L754.7,237.0 L755.9,234.9 L756.4,232.4 L756.1,229.9Z" fill="#0a0a10"/><path d="M752.6,229.3 L751.4,227.5 L750.2,225.7 L749.1,223.9 L747.9,222.1 L746.7,220.3 L745.5,218.5 L744.3,216.7 L743.1,214.9 L741.9,213.1 L740.7,211.3 L739.5,209.5 L738.2,207.7 L737.0,205.9 L735.8,204.1 L734.6,202.3 L733.3,200.4 L732.1,198.6 L731.0,197.5 L729.7,196.7 L728.2,196.5 L726.6,196.6 L725.2,197.3 L724.1,198.4 L723.3,199.7 L723.1,201.2 L723.2,202.8 L723.9,204.2 L725.1,206.0 L726.4,207.8 L727.6,209.6 L728.8,211.4 L730.0,213.2 L731.2,215.0 L732.5,216.8 L733.7,218.6 L734.9,220.4 L736.1,222.2 L737.2,224.0 L738.4,225.8 L739.6,227.6 L740.8,229.4 L742.0,231.2 L743.2,233.0 L744.3,234.7 L745.4,235.9 L746.7,236.7 L748.2,237.0 L749.8,236.8 L751.2,236.2 L752.3,235.1 L753.1,233.8 L753.4,232.3 L753.2,230.7Z" fill="url(#gAustin)"/></g><defs><linearGradient id="lgd" x1="0" y1="0" x2="1" y2="0"><stop offset="0.000" stop-color="#b1113a"/><stop offset="0.050" stop-color="#c51838"/><stop offset="0.100" stop-color="#db283c"/><stop offset="0.180" stop-color="#e94243"/><stop offset="0.250" stop-color="#f1574c"/><stop offset="0.333" stop-color="#f87864"/><stop offset="0.400" stop-color="#fb8e7a"/><stop offset="0.450" stop-color="#fbaa98"/><stop offset="0.480" stop-color="#f6c4b8"/><stop offset="0.500" stop-color="#e4dada"/><stop offset="0.520" stop-color="#bcd6e9"/><stop offset="0.550" stop-color="#98c7e7"/><stop offset="0.600" stop-color="#82b7e1"/><stop offset="0.667" stop-color="#70a8d7"/><stop offset="0.750" stop-color="#5f96cb"/><stop offset="0.833" stop-color="#5187be"/><stop offset="0.920" stop-color="#4477af"/><stop offset="1.000" stop-color="#3a689e"/></linearGradient></defs><rect x="1000" y="563.5" width="213.5" height="22.5" fill="#fff" stroke="#a9b4bc" stroke-width="1"/><rect x="1001.5" y="565" width="210.5" height="19.5" fill="url(#lgd)"/><rect x="1106" y="582" width="1.2" height="6" fill="#111"/>
</svg>
<div class="ttl" style="top:33px;height:35px;width:305px"><span class="t1">Origin as % of Destination</span></div>
<div class="ttl" style="top:68px;height:34px;width:110px"><span class="t1">Incomers</span></div>
<div class="ttl" style="top:102px;height:26.5px;width:214px"><span class="t2">Out-of-state metros only</span></div>
<div class="lab" style="top:147.5px">Los Angeles, CA</div>
<div class="bar" style="top:147.5px;width:172.2px"></div>
<div class="val" style="top:147.5px;left:370.2px">9.3%</div>
<div class="lab" style="top:189.5px">Bay Area</div>
<div class="bar" style="top:189.5px;width:147.9px"></div>
<div class="val" style="top:189.5px;left:345.9px">7.9%</div>
<div class="lab" style="top:231.5px">Chicago, IL</div>
<div class="bar" style="top:231.5px;width:106.9px"></div>
<div class="val" style="top:231.5px;left:304.9px">5.7%</div>
<div class="lab" style="top:273.5px">Boston, MA</div>
<div class="bar" style="top:273.5px;width:100.8px"></div>
<div class="val" style="top:273.5px;left:298.8px">5.5%</div>
<div class="lab" style="top:315.5px">Washington, DC</div>
<div class="bar" style="top:315.5px;width:96.2px"></div>
<div class="val" style="top:315.5px;left:294.2px">5.2%</div>
<div class="lab" style="top:357.5px">Seattle, WA</div>
<div class="bar" style="top:357.5px;width:87.2px"></div>
<div class="val" style="top:357.5px;left:285.2px">4.7%</div>
<div class="lab" style="top:399.5px">New York, NY</div>
<div class="bar" style="top:399.5px;width:74.0px"></div>
<div class="val" style="top:399.5px;left:272.0px">4.0%</div>
<div class="lab" style="top:441.5px">Dallas, TX</div>
<div class="bar" style="top:441.5px;width:57.4px"></div>
<div class="val" style="top:441.5px;left:255.4px">3.1%</div>
<div class="lab" style="top:483.5px">Phoenix, AZ</div>
<div class="bar" style="top:483.5px;width:50.5px"></div>
<div class="val" style="top:483.5px;left:248.5px">2.7%</div>
<div class="lab" style="top:525.5px">Austin, TX</div>
<div class="bar" style="top:525.5px;width:48.0px"></div>
<div class="val" style="top:525.5px;left:246.0px">2.6%</div>
<div class="src">Source: Redfin user search data for Q1 2022</div>
<div class="attr">© 2022 Mapbox  © OpenStreetMap</div>
<div class="lgt">Origin --&gt; Destination</div>
</body></html>
